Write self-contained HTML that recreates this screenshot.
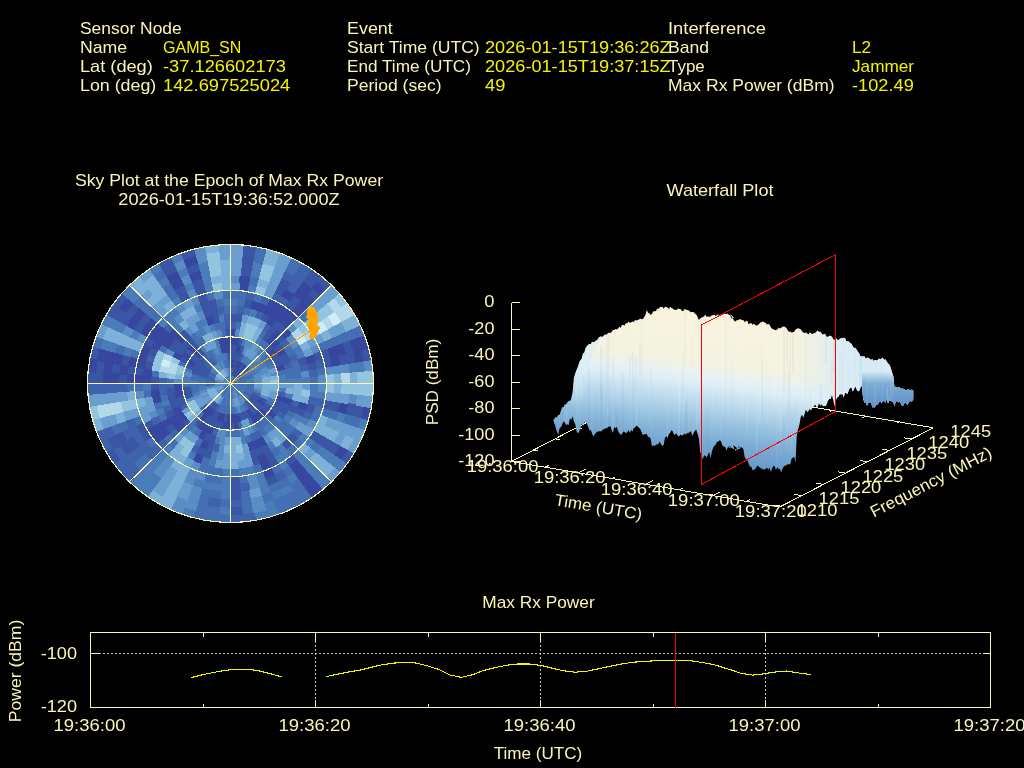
<!DOCTYPE html>
<html lang="en"><head><meta charset="utf-8"><title>Interference Event Report</title>
<style>
html,body{margin:0;padding:0;background:#000;}
body{width:1024px;height:768px;overflow:hidden;font-family:"Liberation Sans",sans-serif;}
svg{display:block;position:absolute;left:0;top:0;will-change:transform;opacity:0.999;}
text{font-family:"Liberation Sans",sans-serif;font-size:16.4px;}
.ax{stroke:#fbf7b5;stroke-width:1;fill:none;shape-rendering:crispEdges;}
</style></head><body>
<svg width="1024" height="768" viewBox="0 0 1024 768">
<rect x="0" y="0" width="1024" height="768" fill="#000"/>

<g id="header">
<text x="80" y="34" text-anchor="start" fill="#fbf7b5" textLength="101.7" lengthAdjust="spacingAndGlyphs">Sensor Node</text>
<text x="80" y="53" text-anchor="start" fill="#fbf7b5" textLength="47.2" lengthAdjust="spacingAndGlyphs">Name</text>
<text x="163" y="53" text-anchor="start" fill="#f5f500" textLength="78.3" lengthAdjust="spacingAndGlyphs">GAMB_SN</text>
<text x="80" y="72" text-anchor="start" fill="#fbf7b5" textLength="72.8" lengthAdjust="spacingAndGlyphs">Lat (deg)</text>
<text x="163" y="72" text-anchor="start" fill="#f5f500" textLength="122.9" lengthAdjust="spacingAndGlyphs">-37.126602173</text>
<text x="80" y="91" text-anchor="start" fill="#fbf7b5" textLength="76.3" lengthAdjust="spacingAndGlyphs">Lon (deg)</text>
<text x="163" y="91" text-anchor="start" fill="#f5f500" textLength="127.3" lengthAdjust="spacingAndGlyphs">142.697525024</text>
<text x="347" y="34" text-anchor="start" fill="#fbf7b5" textLength="45.8" lengthAdjust="spacingAndGlyphs">Event</text>
<text x="347" y="53" text-anchor="start" fill="#fbf7b5" textLength="132.7" lengthAdjust="spacingAndGlyphs">Start Time (UTC)</text>
<text x="485" y="53" text-anchor="start" fill="#f5f500" textLength="185.7" lengthAdjust="spacingAndGlyphs">2026-01-15T19:36:26Z</text>
<text x="347" y="72" text-anchor="start" fill="#fbf7b5" textLength="124.0" lengthAdjust="spacingAndGlyphs">End Time (UTC)</text>
<text x="485" y="72" text-anchor="start" fill="#f5f500" textLength="185.7" lengthAdjust="spacingAndGlyphs">2026-01-15T19:37:15Z</text>
<text x="347" y="91" text-anchor="start" fill="#fbf7b5" textLength="94.5" lengthAdjust="spacingAndGlyphs">Period (sec)</text>
<text x="485" y="91" text-anchor="start" fill="#f5f500" textLength="20.4" lengthAdjust="spacingAndGlyphs">49</text>
<text x="668" y="34" text-anchor="start" fill="#fbf7b5" textLength="97.9" lengthAdjust="spacingAndGlyphs">Interference</text>
<text x="668" y="53" text-anchor="start" fill="#fbf7b5" textLength="41.1" lengthAdjust="spacingAndGlyphs">Band</text>
<text x="852" y="53" text-anchor="start" fill="#f5f500" textLength="19.1" lengthAdjust="spacingAndGlyphs">L2</text>
<text x="668" y="72" text-anchor="start" fill="#fbf7b5" textLength="36.8" lengthAdjust="spacingAndGlyphs">Type</text>
<text x="852" y="72" text-anchor="start" fill="#f5f500" textLength="62.1" lengthAdjust="spacingAndGlyphs">Jammer</text>
<text x="668" y="91" text-anchor="start" fill="#fbf7b5" textLength="166.6" lengthAdjust="spacingAndGlyphs">Max Rx Power (dBm)</text>
<text x="852" y="91" text-anchor="start" fill="#f5f500" textLength="61.8" lengthAdjust="spacingAndGlyphs">-102.49</text>
</g>
<text x="229" y="186" text-anchor="middle" fill="#fbf7b5" textLength="308.2" lengthAdjust="spacingAndGlyphs">Sky Plot at the Epoch of Max Rx Power</text>
<text x="229" y="205" text-anchor="middle" fill="#fbf7b5" textLength="221.4" lengthAdjust="spacingAndGlyphs">2026-01-15T19:36:52.000Z</text>
<text x="720" y="196" text-anchor="middle" fill="#fbf7b5" textLength="107.0" lengthAdjust="spacingAndGlyphs">Waterfall Plot</text>
<text x="538.5" y="608" text-anchor="middle" fill="#fbf7b5" textLength="112.3" lengthAdjust="spacingAndGlyphs">Max Rx Power</text>
<g id="skyplot">
<defs><clipPath id="skyclip"><circle cx="230.5" cy="383.5" r="143.0"/></clipPath></defs>
<g transform="translate(0 10.727) scale(1 0.9720)">
<circle cx="230.5" cy="383.5" r="143.0" fill="#4a7dba"/>
<g clip-path="url(#skyclip)" shape-rendering="crispEdges">
<path fill="#4a7dba" d="M230.5 383.5L230.5 375.0L231.3 375.0L230.5 383.5ZM230.5 383.5L231.2 375.0L232.0 375.1L230.5 383.5ZM230.5 383.5L231.9 375.1L232.8 375.3L230.5 383.5ZM230.5 383.5L232.7 375.2L233.5 375.5L230.5 383.5ZM230.5 383.5L233.4 375.5L234.2 375.8L230.5 383.5ZM230.5 383.5L235.4 376.5L236.0 377.0L230.5 383.5ZM230.5 383.5L236.0 376.9L236.6 377.5L230.5 383.5ZM230.5 383.5L236.5 377.4L237.1 378.0L230.5 383.5ZM230.5 383.5L237.0 378.0L237.5 378.6L230.5 383.5ZM230.5 383.5L237.5 378.6L237.9 379.3L230.5 383.5ZM230.5 383.5L237.9 379.2L238.3 379.9L230.5 383.5ZM230.5 383.5L238.2 379.8L238.5 380.6L230.5 383.5ZM230.5 383.5L238.5 380.5L238.8 381.3L230.5 383.5ZM230.5 383.5L238.9 382.0L239.0 382.8L230.5 383.5ZM230.5 383.5L239.0 382.7L239.0 383.5L230.5 383.5ZM230.5 383.5L239.0 383.5L239.0 384.3L230.5 383.5ZM230.5 383.5L239.0 384.2L238.9 385.0L230.5 383.5ZM230.5 383.5L238.9 384.9L238.7 385.8L230.5 383.5ZM230.5 383.5L238.5 386.4L238.2 387.2L230.5 383.5ZM230.5 383.5L238.3 387.1L237.9 387.8L230.5 383.5ZM230.5 383.5L237.1 389.0L236.5 389.6L230.5 383.5ZM230.5 383.5L236.6 389.5L236.0 390.1L230.5 383.5ZM230.5 383.5L236.0 390.0L235.4 390.5L230.5 383.5ZM230.5 383.5L235.4 390.5L234.7 390.9L230.5 383.5ZM230.5 383.5L234.8 390.9L234.1 391.3L230.5 383.5ZM230.5 383.5L234.2 391.2L233.4 391.5L230.5 383.5ZM230.5 383.5L232.8 391.7L231.9 391.9L230.5 383.5ZM230.5 383.5L231.3 392.0L230.5 392.0L230.5 383.5ZM230.5 383.5L230.5 392.0L229.7 392.0L230.5 383.5ZM230.5 383.5L227.6 391.5L226.8 391.2L230.5 383.5ZM230.5 383.5L226.9 391.3L226.2 390.9L230.5 383.5ZM230.5 383.5L226.3 390.9L225.6 390.5L230.5 383.5ZM230.5 383.5L225.0 390.1L224.4 389.5L230.5 383.5ZM230.5 383.5L224.5 389.6L223.9 389.0L230.5 383.5ZM230.5 383.5L224.0 389.0L223.5 388.4L230.5 383.5ZM230.5 383.5L223.5 388.4L223.1 387.7L230.5 383.5ZM230.5 383.5L223.1 387.8L222.7 387.1L230.5 383.5ZM230.5 383.5L222.8 387.2L222.5 386.4L230.5 383.5ZM230.5 383.5L222.5 386.5L222.2 385.7L230.5 383.5ZM230.5 383.5L222.0 382.8L222.1 382.0L230.5 383.5ZM230.5 383.5L222.7 379.9L223.1 379.2L230.5 383.5ZM230.5 383.5L223.5 378.6L224.0 378.0L230.5 383.5ZM230.5 383.5L224.4 377.5L225.0 376.9L230.5 383.5ZM230.5 383.5L225.0 377.0L225.6 376.5L230.5 383.5ZM230.5 383.5L225.6 376.5L226.3 376.1L230.5 383.5ZM230.5 383.5L226.2 376.1L226.9 375.7L230.5 383.5ZM230.5 383.5L228.2 375.3L229.1 375.1L230.5 383.5ZM230.5 383.5L229.0 375.1L229.8 375.0L230.5 383.5ZM230.5 383.5L229.7 375.0L230.5 375.0L230.5 383.5ZM238.4 383.5L247.0 383.4L246.9 385.0L238.4 384.2ZM238.2 385.5L246.4 387.7L246.0 389.2L238.0 386.3ZM237.7 386.8L245.5 390.4L244.7 391.8L237.4 387.5ZM237.4 387.4L244.8 391.7L244.0 393.0L237.0 388.1ZM236.6 388.6L243.2 394.0L242.1 395.2L236.1 389.1ZM236.1 389.1L242.2 395.1L241.0 396.2L235.6 389.6ZM235.6 389.6L241.2 396.1L239.9 397.1L235.0 390.0ZM235.1 390.0L240.0 397.0L238.7 397.8L234.4 390.4ZM232.6 391.2L234.9 399.4L233.3 399.8L231.8 391.3ZM231.9 391.3L233.4 399.7L231.9 399.9L231.2 391.4ZM231.2 391.4L232.0 399.9L230.4 400.0L230.5 391.4ZM229.2 391.3L227.7 399.8L226.1 399.4L228.4 391.2ZM227.8 391.0L224.9 399.0L223.5 398.4L227.1 390.7ZM226.0 390.0L221.1 397.1L219.8 396.1L225.4 389.6ZM225.4 389.6L220.0 396.2L218.8 395.1L224.9 389.1ZM222.6 383.5L214.0 383.6L214.1 382.0L222.6 382.8ZM222.6 382.8L214.1 382.1L214.3 380.6L222.7 382.1ZM229.1 375.7L227.6 367.3L229.1 367.1L229.8 375.6ZM229.8 375.6L229.0 367.1L230.6 367.0L230.5 375.6ZM244.2 375.5L251.6 371.2L252.7 373.3L244.9 376.9ZM245.8 379.3L254.1 377.1L254.6 379.4L246.2 380.8ZM246.1 380.7L254.5 379.1L254.9 381.5L246.3 382.2ZM232.0 399.3L232.8 407.8L230.4 407.9L230.4 399.4ZM230.6 399.4L230.6 407.9L228.2 407.8L229.0 399.3ZM227.8 399.2L226.4 407.6L224.1 407.1L226.3 398.8ZM216.7 375.6L209.3 371.4L210.6 369.4L217.5 374.3ZM217.4 374.5L210.4 369.6L211.9 367.7L218.4 373.2ZM222.5 369.8L218.2 362.4L220.3 361.3L223.9 369.1ZM225.0 368.6L222.0 360.6L224.3 359.9L226.5 368.1ZM240.5 361.8L244.0 354.1L246.8 355.5L242.5 362.9ZM242.3 362.8L246.5 355.4L249.2 357.1L244.3 364.0ZM244.1 363.9L248.9 356.9L251.4 358.8L245.9 365.3ZM245.7 365.2L251.2 358.6L253.5 360.7L247.4 366.7ZM247.3 366.6L253.3 360.5L255.4 362.8L248.8 368.3ZM248.7 368.1L255.2 362.6L257.1 365.1L250.1 369.9ZM251.1 371.5L258.5 367.2L259.9 370.0L252.2 373.5ZM252.0 373.3L259.8 369.7L261.0 372.6L252.9 375.5ZM253.6 389.5L261.8 391.7L260.9 394.7L252.9 391.8ZM242.5 404.1L246.8 411.5L244.0 412.9L240.5 405.2ZM240.7 405.0L244.3 412.8L241.4 414.0L238.5 405.9ZM236.8 406.5L239.0 414.7L236.0 415.4L234.5 407.0ZM207.5 389.8L199.3 392.0L198.6 389.0L207.0 387.5ZM207.1 387.8L198.6 389.3L198.2 386.2L206.7 385.5ZM218.5 362.9L214.2 355.5L217.0 354.1L220.5 361.8ZM220.3 362.0L216.7 354.2L219.6 353.0L222.5 361.1ZM222.2 361.1L219.3 353.1L222.3 352.2L224.5 360.4ZM224.2 360.5L222.0 352.3L225.0 351.6L226.5 360.0ZM254.7 362.9L261.3 357.4L263.7 360.5L256.6 365.4ZM256.4 365.1L263.4 360.2L265.5 363.5L258.1 367.8ZM257.9 367.5L265.3 363.2L267.1 366.7L259.4 370.2ZM200.7 394.5L192.7 397.5L191.5 393.7L199.8 391.6ZM198.7 383.7L190.2 383.7L190.4 379.8L198.9 380.6ZM214.5 356.1L210.2 348.7L213.7 346.9L217.2 354.6ZM219.5 353.7L216.5 345.7L220.3 344.5L222.4 352.8ZM240.6 345.1L242.7 336.8L247.2 338.2L244.3 346.2ZM255.9 352.9L261.3 346.4L264.8 349.5L258.7 355.6ZM258.4 355.3L264.5 349.2L267.6 352.7L261.1 358.1ZM266.4 366.5L274.1 362.9L275.9 367.2L267.9 370.1ZM267.9 396.9L275.9 399.8L274.1 404.1L266.4 400.5ZM190.8 383.7L182.2 383.8L182.4 379.0L190.9 379.8ZM190.9 380.2L182.4 379.5L183.0 374.9L191.4 376.4ZM192.1 373.4L183.8 371.3L185.2 366.8L193.2 369.7ZM204.8 353.2L199.3 346.7L203.0 343.8L207.9 350.8ZM216.7 346.2L213.8 338.2L218.3 336.8L220.4 345.1ZM254.1 342.1L258.4 334.7L263.0 337.6L258.0 344.6ZM277.4 375.0L285.8 373.4L286.5 378.9L278.0 379.6ZM278.0 379.1L286.5 378.3L286.7 383.8L278.2 383.7ZM278.0 387.4L286.5 388.1L285.8 393.6L277.4 392.0ZM254.5 424.7L258.9 432.0L254.0 434.6L250.4 426.8ZM243.1 429.5L245.3 437.7L240.0 438.9L238.5 430.5ZM230.7 431.2L230.8 439.7L225.3 439.5L226.1 431.0ZM285.9 378.4L294.4 377.6L294.7 383.8L286.1 383.8ZM285.3 392.9L293.7 394.3L292.4 400.4L284.1 398.2ZM276.2 415.2L283.2 420.0L279.4 425.0L272.9 419.5ZM270.0 422.6L276.1 428.6L271.5 432.9L266.0 426.3ZM266.5 425.9L272.0 432.4L267.0 436.2L262.2 429.2ZM245.2 437.1L247.4 445.4L241.3 446.7L239.9 438.3ZM221.1 438.3L219.7 446.7L213.6 445.4L215.8 437.1ZM198.8 429.2L194.0 436.2L189.0 432.4L194.5 425.9ZM198.4 338.1L193.4 331.1L198.7 327.8L202.9 335.2ZM202.4 335.5L198.1 328.1L203.7 325.2L207.3 333.0ZM211.2 331.3L208.2 323.3L214.2 321.4L216.4 329.7ZM293.8 377.6L302.3 376.8L302.6 383.9L294.1 383.8ZM285.7 415.0L293.1 419.2L289.3 425.2L282.4 420.2ZM170.9 405.5L162.9 408.5L160.8 401.8L169.0 399.6ZM198.4 328.6L194.1 321.2L200.4 318.0L203.9 325.8ZM203.3 326.0L199.7 318.3L206.2 315.6L209.1 323.7ZM219.1 321.0L217.6 312.6L224.6 311.6L225.3 320.2ZM248.6 314.3L250.8 306.1L258.3 308.4L255.3 316.4ZM292.2 347.4L299.6 343.1L303.2 350.1L295.5 353.6ZM295.1 352.9L302.9 349.3L305.9 356.5L297.8 359.4ZM301.7 376.9L310.2 376.1L310.5 383.9L302.0 383.9ZM295.5 413.4L303.2 416.9L299.6 423.9L292.2 419.6ZM271.8 441.9L276.8 448.8L270.2 453.0L265.9 445.6ZM218.5 454.0L217.0 462.4L209.4 460.7L211.6 452.5ZM165.9 414.1L158.1 417.7L155.1 410.5L163.2 407.6ZM179.7 333.2L173.6 327.2L179.4 321.9L184.8 328.5ZM230.1 304.1L230.0 295.5L238.6 295.9L237.8 304.4ZM309.9 383.1L318.5 383.0L318.1 391.6L309.6 390.8ZM309.7 390.0L318.2 390.7L317.1 399.2L308.7 397.7ZM302.7 416.7L310.4 420.3L306.5 427.9L299.1 423.6ZM281.9 444.1L287.4 450.6L280.6 455.8L275.7 448.8ZM217.1 461.8L215.7 470.2L207.3 468.4L209.5 460.1ZM197.3 455.7L193.7 463.4L186.1 459.5L190.4 452.1ZM151.4 390.8L142.9 391.6L142.5 383.0L151.1 383.1ZM174.0 327.6L168.0 321.6L174.3 315.8L179.8 322.4ZM196.5 311.7L192.9 304.0L200.8 300.7L203.7 308.7ZM223.2 304.4L222.4 295.9L231.0 295.5L230.9 304.1ZM317.6 390.7L326.1 391.4L324.9 400.7L316.5 399.1ZM302.3 433.2L309.4 438.1L303.7 445.5L297.1 440.0ZM287.0 450.1L292.5 456.7L285.1 462.4L280.2 455.3ZM281.0 454.8L285.9 461.8L278.0 466.8L273.8 459.4ZM253.6 467.8L255.8 476.0L246.7 478.1L245.2 469.6ZM246.1 469.5L247.7 477.9L238.4 479.1L237.7 470.6ZM231.0 470.9L231.0 479.4L221.6 479.0L222.4 470.5ZM174.7 450.7L169.2 457.3L162.3 451.0L168.4 445.0ZM163.3 327.7L156.7 322.2L163.0 315.3L169.0 321.4ZM168.4 322.0L162.3 316.0L169.2 309.7L174.7 316.3ZM174.0 316.9L168.5 310.3L175.9 304.6L180.8 311.7ZM246.6 289.5L248.0 281.1L257.9 283.3L255.7 291.5ZM308.9 437.8L315.9 442.6L309.7 450.7L303.2 445.2ZM298.3 450.6L304.3 456.6L296.9 463.4L291.4 456.8ZM285.6 461.3L290.5 468.3L282.0 473.7L277.7 466.3ZM263.6 472.9L266.5 480.9L256.9 484.0L254.7 475.7ZM231.0 478.8L231.0 487.4L220.9 486.9L221.7 478.4ZM169.6 456.8L164.1 463.4L156.7 456.6L162.7 450.6ZM175.4 305.7L170.5 298.7L179.0 293.3L183.3 300.7ZM205.3 291.5L203.1 283.3L213.0 281.1L214.4 289.5ZM303.1 310.1L309.2 304.0L316.5 312.1L310.0 317.5ZM303.9 456.1L310.0 462.2L301.9 469.5L296.5 463.0ZM266.3 480.4L269.3 488.4L258.9 491.7L256.7 483.4ZM231.0 486.8L231.1 495.3L220.2 494.8L221.0 486.3ZM222.0 486.4L221.3 494.9L210.5 493.5L212.0 485.1ZM213.1 485.3L211.7 493.7L201.0 491.4L203.2 483.1ZM204.3 483.4L202.1 491.7L191.7 488.4L194.7 480.4ZM164.5 463.0L159.1 469.5L151.0 462.2L157.1 456.1ZM130.6 357.3L122.3 355.1L125.6 344.7L133.6 347.7ZM136.7 340.3L128.9 336.8L134.0 327.1L141.3 331.4ZM186.4 290.1L182.7 282.4L192.8 278.2L195.7 286.3ZM203.2 283.9L201.0 275.6L211.7 273.3L213.1 281.7ZM249.2 273.9L250.7 265.4L262.1 268.0L259.8 276.2ZM338.1 411.7L346.3 413.9L342.8 425.1L334.8 422.1ZM321.9 446.8L329.0 451.7L321.8 461.0L315.3 455.4ZM309.6 461.7L315.6 467.7L307.0 475.6L301.5 469.1ZM294.8 474.3L299.7 481.2L289.8 487.5L285.6 480.1ZM269.1 487.8L272.1 495.8L260.9 499.3L258.7 491.1ZM231.1 494.7L231.1 503.3L219.4 502.8L220.2 494.2ZM159.5 469.1L154.0 475.6L145.4 467.7L151.4 461.7ZM201.2 276.2L198.9 268.0L210.3 265.4L211.8 273.9ZM250.6 266.0L252.0 257.6L264.2 260.3L261.9 268.6ZM347.7 362.2L356.2 360.7L357.8 373.0L349.3 373.7ZM328.5 451.3L335.5 456.2L327.9 466.1L321.4 460.6ZM315.2 467.3L321.3 473.3L312.1 481.8L306.6 475.2ZM290.6 486.4L294.9 493.8L283.9 499.5L280.3 491.8ZM281.4 491.2L285.1 499.0L273.6 503.7L270.7 495.7ZM162.7 481.5L157.8 488.5L147.9 480.9L153.4 474.4ZM154.4 475.2L148.9 481.8L139.7 473.3L145.8 467.3ZM115.2 353.3L107.0 351.1L110.7 339.2L118.7 342.2ZM122.2 333.7L114.5 330.1L120.2 319.1L127.6 323.4ZM161.6 286.2L156.7 279.3L167.2 272.6L171.5 280.0ZM179.6 275.8L175.9 268.0L187.4 263.3L190.3 271.3ZM199.1 268.6L196.8 260.3L209.0 257.6L210.4 266.0ZM355.6 360.8L364.0 359.2L365.7 372.4L357.2 373.1ZM335.0 455.9L342.0 460.7L334.0 471.2L327.4 465.7ZM320.9 472.9L326.9 478.9L317.2 487.9L311.7 481.3ZM274.6 502.7L277.6 510.7L264.9 514.7L262.8 506.5ZM231.2 510.6L231.2 519.2L218.0 518.6L218.8 510.1ZM158.1 488.0L153.3 495.0L142.8 487.0L148.3 480.4ZM149.3 481.3L143.8 487.9L134.1 478.9L140.1 472.9ZM107.5 351.2L99.3 349.1L103.3 336.4L111.3 339.4ZM115.0 330.4L107.3 326.8L113.4 315.1L120.8 319.4ZM132.7 302.3L126.1 296.8L135.1 287.1L141.1 293.1ZM361.1 417.8L369.4 419.9L365.2 433.3L357.2 430.4ZM341.5 460.4L348.6 465.2L340.0 476.4L333.5 470.9ZM326.5 478.5L332.6 484.5L322.2 494.0L316.8 487.4ZM277.4 510.2L280.3 518.2L266.9 522.4L264.8 514.1ZM266.1 513.8L268.4 522.0L254.7 525.0L253.3 516.6ZM196.2 514.1L194.1 522.4L180.7 518.2L183.6 510.2ZM153.6 494.5L148.8 501.6L137.6 493.0L143.1 486.5ZM144.2 487.4L138.8 494.0L128.4 484.5L134.5 478.5ZM107.8 327.1L100.0 323.5L106.5 311.0L113.9 315.4ZM126.6 297.2L120.0 291.8L129.5 281.4L135.5 287.5ZM152.5 273.3L147.5 266.3L159.4 258.8L163.6 266.2ZM172.8 261.4L169.1 253.7L182.1 248.3L185.0 256.3Z"/>
<path fill="#4670b4" d="M230.5 383.5L234.1 375.7L234.8 376.1L230.5 383.5ZM230.5 383.5L234.7 376.1L235.4 376.5L230.5 383.5ZM230.5 383.5L238.7 381.2L238.9 382.1L230.5 383.5ZM230.5 383.5L238.8 385.7L238.5 386.5L230.5 383.5ZM230.5 383.5L237.9 387.7L237.5 388.4L230.5 383.5ZM230.5 383.5L237.5 388.4L237.0 389.0L230.5 383.5ZM230.5 383.5L233.5 391.5L232.7 391.8L230.5 383.5ZM230.5 383.5L232.0 391.9L231.2 392.0L230.5 383.5ZM230.5 383.5L229.8 392.0L229.0 391.9L230.5 383.5ZM230.5 383.5L229.1 391.9L228.2 391.7L230.5 383.5ZM230.5 383.5L228.3 391.8L227.5 391.5L230.5 383.5ZM230.5 383.5L225.6 390.5L225.0 390.0L230.5 383.5ZM230.5 383.5L227.5 375.5L228.3 375.2L230.5 383.5ZM237.0 378.9L244.0 374.0L244.8 375.3L237.4 379.6ZM237.4 379.5L244.7 375.2L245.5 376.6L237.7 380.2ZM237.7 380.1L245.4 376.5L246.0 377.9L238.0 380.8ZM238.0 380.7L246.0 377.8L246.4 379.3L238.2 381.5ZM238.2 381.4L246.4 379.1L246.8 380.7L238.3 382.2ZM238.3 382.1L246.7 380.6L246.9 382.1L238.4 382.8ZM238.4 382.8L246.9 382.0L247.0 383.6L238.4 383.5ZM238.4 384.2L246.9 384.9L246.7 386.4L238.3 384.9ZM238.3 384.8L246.8 386.3L246.4 387.9L238.2 385.6ZM238.0 386.2L246.0 389.1L245.4 390.5L237.7 386.9ZM237.0 388.0L244.1 392.9L243.1 394.2L236.6 388.6ZM230.5 391.4L230.6 400.0L229.0 399.9L229.8 391.4ZM229.8 391.4L229.1 399.9L227.6 399.7L229.1 391.3ZM228.5 391.2L226.3 399.4L224.8 399.0L227.7 391.0ZM227.2 390.7L223.6 398.5L222.2 397.7L226.5 390.4ZM226.6 390.4L222.3 397.8L221.0 397.0L225.9 390.0ZM242.6 373.2L249.1 367.7L250.6 369.6L243.6 374.5ZM243.5 374.3L250.4 369.4L251.7 371.4L244.3 375.6ZM244.9 376.7L252.6 373.1L253.5 375.3L245.5 378.1ZM245.4 378.0L253.4 375.0L254.1 377.3L245.9 379.5ZM246.3 382.0L254.8 381.2L254.9 383.6L246.4 383.6ZM246.4 383.4L254.9 383.4L254.8 385.8L246.3 385.0ZM246.3 384.8L254.9 385.5L254.5 387.9L246.1 386.3ZM246.2 386.2L254.6 387.6L254.1 389.9L245.8 387.7ZM245.9 387.5L254.1 389.7L253.4 392.0L245.4 389.0ZM245.5 388.9L253.5 391.7L252.6 393.9L244.9 390.3ZM244.9 390.1L252.7 393.7L251.6 395.8L244.2 391.5ZM243.6 392.5L250.6 397.4L249.1 399.3L242.6 393.8ZM242.7 393.6L249.3 399.1L247.7 400.9L241.7 394.8ZM241.8 394.7L247.9 400.7L246.1 402.3L240.6 395.7ZM229.2 399.3L228.5 407.9L226.1 407.5L227.7 399.1ZM226.5 398.9L224.3 407.1L222.0 406.4L225.0 398.4ZM225.1 398.5L222.3 406.5L220.1 405.6L223.7 397.9ZM214.9 386.3L206.5 387.9L206.1 385.5L214.7 384.8ZM215.5 378.1L207.5 375.3L208.4 373.1L216.1 376.7ZM226.3 368.2L224.1 359.9L226.4 359.4L227.8 367.8ZM227.7 367.9L226.1 359.5L228.5 359.1L229.2 367.7ZM244.3 403.0L249.2 409.9L246.5 411.6L242.3 404.2ZM234.8 406.9L236.3 415.4L233.2 415.8L232.5 407.3ZM232.7 407.2L233.5 415.7L230.3 415.9L230.4 407.3ZM230.6 407.3L230.7 415.9L227.5 415.7L228.3 407.2ZM228.5 407.3L227.8 415.8L224.7 415.4L226.2 406.9ZM226.5 407.0L225.0 415.4L222.0 414.7L224.2 406.5ZM224.5 406.6L222.3 414.8L219.3 413.9L222.2 405.9ZM222.5 405.9L219.6 414.0L216.7 412.8L220.3 405.0ZM206.8 385.7L198.3 386.5L198.1 383.3L206.7 383.4ZM206.7 383.6L198.1 383.7L198.3 380.5L206.8 381.3ZM206.7 381.5L198.2 380.8L198.6 377.7L207.1 379.2ZM216.7 364.0L211.8 357.1L214.5 355.4L218.7 362.8ZM226.2 360.1L224.7 351.6L227.8 351.2L228.5 359.7ZM199.8 391.9L191.6 394.1L190.8 390.3L199.2 388.9ZM199.2 389.2L190.8 390.7L190.3 386.8L198.8 386.1ZM198.9 386.4L190.4 387.2L190.2 383.3L198.7 383.3ZM198.8 380.9L190.3 380.2L190.8 376.3L199.2 377.8ZM199.2 378.1L190.8 376.7L191.6 372.9L199.8 375.1ZM209.9 359.3L204.4 352.7L207.5 350.3L212.4 357.4ZM212.1 357.6L207.2 350.6L210.5 348.5L214.8 355.9ZM260.8 357.8L267.3 352.3L270.2 356.0L263.2 360.9ZM262.9 360.5L269.9 355.6L272.4 359.6L265.0 363.8ZM264.8 363.5L272.2 359.1L274.4 363.3L266.6 366.9ZM266.6 400.1L274.4 403.7L272.2 407.9L264.8 403.5ZM205.1 414.1L199.7 420.6L196.2 417.5L202.3 411.4ZM190.9 387.2L182.4 388.0L182.2 383.2L190.8 383.3ZM257.6 344.3L262.5 337.3L266.9 340.6L261.3 347.1ZM260.9 346.8L266.4 340.3L270.5 344.0L264.4 350.0ZM276.5 370.9L284.7 368.7L285.9 374.0L277.5 375.5ZM264.4 417.0L270.5 423.0L266.4 426.7L260.9 420.2ZM261.3 419.9L266.9 426.4L262.5 429.7L257.6 422.7ZM258.0 422.4L263.0 429.4L258.4 432.3L254.1 424.9ZM239.0 430.4L240.6 438.8L235.1 439.5L234.4 431.0ZM234.9 431.0L235.7 439.5L230.2 439.7L230.3 431.2ZM200.1 420.2L194.6 426.7L190.5 423.0L196.6 417.0ZM185.6 367.4L177.6 364.6L179.7 359.5L187.4 363.1ZM199.7 347.1L194.1 340.6L198.5 337.3L203.4 344.3ZM203.0 344.6L198.0 337.6L202.6 334.7L206.9 342.1ZM222.0 336.6L220.4 328.2L225.9 327.5L226.6 336.0ZM235.1 328.1L235.8 319.6L242.0 320.4L240.4 328.8ZM258.1 335.2L262.3 327.8L267.6 331.1L262.6 338.1ZM284.1 368.8L292.4 366.6L293.7 372.7L285.3 374.1ZM285.2 373.6L293.6 372.0L294.4 378.2L285.9 378.9ZM273.3 419.0L279.9 424.5L275.6 429.1L269.6 423.0ZM262.6 428.9L267.6 435.9L262.3 439.2L258.1 431.8ZM249.8 435.7L252.8 443.7L246.8 445.6L244.6 437.3ZM202.9 431.8L198.7 439.2L193.4 435.9L198.4 428.9ZM195.0 426.3L189.5 432.9L184.9 428.6L191.0 422.6ZM174.9 383.8L166.3 383.8L166.6 377.6L175.1 378.4ZM194.5 341.1L189.0 334.6L194.0 330.8L198.8 337.8ZM215.8 329.9L213.6 321.6L219.7 320.3L221.1 328.7ZM220.6 328.8L219.0 320.4L225.2 319.6L225.9 328.1ZM282.4 346.8L289.3 341.8L293.1 347.8L285.7 352.0ZM285.4 351.4L292.8 347.1L296.0 353.4L288.2 356.9ZM290.1 361.5L298.1 358.5L300.2 365.2L292.0 367.4ZM291.8 366.7L300.0 364.5L301.6 371.4L293.1 372.8ZM293.0 372.1L301.4 370.6L302.4 377.6L293.8 378.3ZM288.2 410.1L296.0 413.6L292.8 419.9L285.4 415.6ZM282.8 419.7L289.8 424.5L285.5 430.1L279.0 424.6ZM279.4 424.1L286.0 429.6L281.2 434.7L275.2 428.7ZM203.9 441.2L200.4 449.0L194.1 445.8L198.4 438.4ZM169.2 400.3L161.0 402.5L159.4 395.6L167.9 394.2ZM230.1 312.0L230.1 303.5L237.9 303.8L237.1 312.3ZM242.5 313.0L244.0 304.6L251.6 306.3L249.4 314.5ZM289.3 424.2L296.3 429.1L291.5 435.3L285.0 429.7ZM285.5 429.2L292.1 434.6L286.8 440.4L280.8 434.3ZM168.8 419.6L161.4 423.9L157.8 416.9L165.5 413.4ZM163.4 408.3L155.4 411.3L153.1 403.8L161.3 401.6ZM159.2 377.6L150.7 376.9L151.7 369.2L160.2 370.7ZM165.5 353.6L157.8 350.1L161.4 343.1L168.8 347.4ZM223.9 312.3L223.1 303.8L230.9 303.5L230.9 312.0ZM237.0 304.3L237.7 295.8L246.2 296.9L244.7 305.3ZM309.6 376.2L318.1 375.4L318.5 384.0L309.9 383.9ZM276.4 448.3L281.3 455.3L274.1 459.9L269.9 452.5ZM210.3 460.3L208.2 468.6L200.0 466.0L202.9 458.0ZM179.8 444.6L174.3 451.2L168.0 445.4L174.0 439.4ZM174.6 440.0L168.6 446.0L162.8 439.7L169.4 434.2ZM152.3 397.7L143.9 399.2L142.8 390.7L151.3 390.0ZM216.3 305.3L214.8 296.9L223.3 295.8L224.0 304.3ZM230.0 296.1L230.0 287.6L239.4 288.0L238.6 296.5ZM237.7 296.4L238.4 287.9L247.7 289.1L246.1 297.5ZM252.7 299.0L254.8 290.7L263.8 293.5L260.8 301.5ZM316.5 367.9L324.9 366.3L326.1 375.6L317.6 376.3ZM315.0 405.7L323.3 407.8L320.5 416.8L312.5 413.8ZM312.8 413.0L320.8 415.8L317.2 424.5L309.5 420.8ZM297.7 439.3L304.3 444.8L298.0 451.7L292.0 445.6ZM292.6 445.0L298.7 451.0L291.8 457.3L286.3 450.7ZM260.8 465.5L263.8 473.5L254.8 476.3L252.7 468.0ZM238.6 470.5L239.4 479.0L230.0 479.4L230.0 470.9ZM223.3 470.6L222.6 479.1L213.3 477.9L214.9 469.5ZM215.8 469.6L214.3 478.1L205.2 476.0L207.4 467.8ZM208.3 468.0L206.2 476.3L197.2 473.5L200.2 465.5ZM143.5 391.6L135.0 392.4L134.6 383.0L143.1 383.0ZM207.4 299.2L205.2 291.0L214.3 288.9L215.8 297.4ZM222.4 296.5L221.6 288.0L231.0 287.6L231.0 296.1ZM297.6 315.7L303.6 309.7L310.4 317.1L303.8 322.6ZM316.7 342.8L324.4 339.1L328.3 348.5L320.3 351.4ZM322.7 407.7L331.0 409.9L327.9 419.5L319.9 416.6ZM278.6 465.8L282.9 473.2L273.9 477.9L270.3 470.1ZM247.5 477.3L249.1 485.7L239.0 487.0L238.3 478.5ZM222.7 478.5L222.0 487.0L211.9 485.7L213.5 477.3ZM214.4 477.5L213.0 485.9L203.1 483.7L205.3 475.5ZM157.8 445.2L151.3 450.7L145.1 442.6L152.1 437.8ZM144.3 424.2L136.6 427.9L132.7 418.5L140.7 415.6ZM135.6 392.3L127.1 393.1L126.6 383.0L135.2 383.0ZM138.3 359.3L130.0 357.1L133.1 347.5L141.1 350.4ZM157.2 322.6L150.6 317.1L157.4 309.7L163.4 315.7ZM247.9 281.7L249.3 273.3L260.0 275.6L257.8 283.9ZM323.9 339.4L331.6 335.7L335.8 345.8L327.7 348.7ZM330.4 409.7L338.7 411.9L335.4 422.3L327.4 419.3ZM315.4 442.3L322.4 447.2L315.8 455.8L309.3 450.3ZM290.2 467.8L295.1 474.8L285.9 480.6L281.7 473.2ZM151.0 317.5L144.5 312.1L151.8 304.0L157.9 310.1ZM170.8 299.2L165.9 292.2L175.1 286.4L179.3 293.8ZM331.1 336.0L338.8 332.3L343.3 343.1L335.2 346.0ZM286.6 479.5L290.9 486.9L280.5 492.3L277.0 484.5ZM278.0 484.1L281.7 491.8L270.9 496.3L268.0 488.2ZM250.4 492.9L251.9 501.3L240.3 502.9L239.6 494.3ZM221.4 494.3L220.7 502.9L209.1 501.3L210.6 492.9ZM211.8 493.1L210.3 501.6L198.9 499.0L201.2 490.8ZM152.3 462.6L146.3 468.6L138.4 460.0L144.9 454.5ZM129.9 431.0L122.2 434.7L117.7 423.9L125.8 421.0ZM122.9 355.3L114.7 353.1L118.2 341.9L126.2 344.9ZM144.9 312.5L138.4 307.0L146.3 298.4L152.3 304.4ZM166.2 292.7L161.3 285.8L171.2 279.5L175.4 286.9ZM338.2 332.6L346.0 328.9L350.7 340.4L342.7 343.3ZM345.8 413.7L354.0 415.9L350.3 427.8L342.3 424.8ZM299.4 480.8L304.3 487.7L293.8 494.4L289.5 487.0ZM271.8 495.3L274.8 503.3L262.9 507.0L260.7 498.8ZM251.8 500.7L253.3 509.2L241.0 510.8L240.3 502.3ZM231.1 502.7L231.2 511.2L218.7 510.7L219.5 502.2ZM210.4 501.0L209.0 509.4L196.8 506.7L199.1 498.4ZM146.7 468.2L140.7 474.3L132.2 465.1L138.8 459.6ZM122.8 434.4L115.0 438.1L110.3 426.6L118.3 423.7ZM138.8 307.4L132.2 301.9L140.7 292.7L146.7 298.8ZM251.9 258.2L253.4 249.8L266.3 252.7L264.0 260.9ZM283.6 268.0L287.2 260.3L298.9 266.4L294.6 273.8ZM345.4 329.2L353.1 325.5L358.2 337.8L350.2 340.7ZM353.5 415.8L361.7 417.9L357.7 430.6L349.7 427.6ZM304.0 487.2L308.9 494.2L297.7 501.3L293.5 493.9ZM294.6 493.2L298.9 500.6L287.2 506.7L283.6 499.0ZM284.8 498.4L288.5 506.1L276.2 511.2L273.3 503.2ZM253.2 508.6L254.8 517.0L241.6 518.7L240.9 510.2ZM220.1 510.2L219.4 518.7L206.2 517.0L207.8 508.6ZM209.1 508.8L207.6 517.2L194.7 514.3L197.0 506.1ZM157.0 279.8L152.1 272.8L163.3 265.7L167.5 273.1ZM253.3 250.4L254.7 242.0L268.4 245.0L266.1 253.2ZM286.9 260.8L290.5 253.0L303.0 259.5L298.6 266.9ZM352.6 325.8L360.3 322.1L365.7 335.1L357.7 338.0ZM308.5 493.7L313.5 500.7L301.6 508.2L297.4 500.8ZM298.6 500.1L303.0 507.5L290.5 514.0L286.9 506.2ZM288.2 505.6L291.9 513.3L278.9 518.7L276.0 510.7ZM231.2 518.6L231.3 527.1L217.2 526.5L218.0 518.0ZM219.4 518.1L218.7 526.6L204.8 524.8L206.4 516.4ZM207.7 516.6L206.3 525.0L192.6 522.0L194.9 513.8ZM99.9 349.2L91.6 347.1L95.8 333.7L103.8 336.6Z"/>
<path fill="#5a8ec4" d="M230.5 383.5L222.3 385.8L222.1 384.9L230.5 383.5ZM230.5 383.5L222.1 385.0L222.0 384.2L230.5 383.5ZM230.5 383.5L222.0 384.3L222.0 383.5L230.5 383.5ZM230.5 383.5L222.0 383.5L222.0 382.7L230.5 383.5ZM230.5 383.5L222.1 382.1L222.3 381.2L230.5 383.5ZM230.5 383.5L222.2 381.3L222.5 380.5L230.5 383.5ZM230.5 383.5L222.5 380.6L222.8 379.8L230.5 383.5ZM230.5 383.5L223.1 379.3L223.5 378.6L230.5 383.5ZM230.5 383.5L223.9 378.0L224.5 377.4L230.5 383.5ZM230.5 383.5L226.8 375.8L227.6 375.5L230.5 383.5ZM234.5 390.4L238.8 397.7L237.4 398.5L233.8 390.7ZM233.9 390.7L237.5 398.4L236.1 399.0L233.2 391.0ZM233.3 391.0L236.2 399.0L234.7 399.4L232.5 391.2ZM224.9 389.1L218.9 395.2L217.8 394.0L224.4 388.6ZM224.4 388.6L217.9 394.2L216.9 392.9L224.0 388.0ZM224.0 388.1L217.0 393.0L216.2 391.7L223.6 387.4ZM222.8 385.6L214.6 387.9L214.2 386.3L222.7 384.8ZM222.7 384.9L214.3 386.4L214.1 384.9L222.6 384.2ZM222.6 384.2L214.1 385.0L214.0 383.4L222.6 383.5ZM222.7 382.2L214.2 380.7L214.6 379.1L222.8 381.4ZM228.4 375.8L226.1 367.6L227.7 367.2L229.2 375.7ZM240.8 395.6L246.3 402.1L244.4 403.6L239.5 396.6ZM239.7 396.5L244.6 403.4L242.6 404.7L238.4 397.3ZM238.5 397.2L242.8 404.6L240.7 405.7L237.1 397.9ZM233.3 399.1L234.9 407.5L232.5 407.9L231.8 399.3ZM223.9 397.9L220.3 405.7L218.2 404.6L222.5 397.2ZM215.2 387.7L206.9 389.9L206.4 387.6L214.8 386.2ZM218.3 373.4L211.7 367.9L213.3 366.1L219.3 372.2ZM219.2 372.3L213.1 366.3L214.9 364.7L220.4 371.3ZM220.2 371.4L214.7 364.9L216.6 363.4L221.5 370.4ZM221.3 370.5L216.4 363.6L218.4 362.3L222.6 369.7ZM223.7 369.1L220.1 361.4L222.3 360.5L225.1 368.5ZM250.0 369.7L256.9 364.8L258.6 367.5L251.2 371.7ZM252.9 375.2L260.9 372.3L261.8 375.3L253.6 377.5ZM253.5 377.2L261.7 375.0L262.4 378.0L254.0 379.5ZM253.9 379.2L262.4 377.7L262.8 380.8L254.3 381.5ZM254.2 381.3L262.7 380.5L262.9 383.7L254.3 383.6ZM254.0 387.5L262.4 389.0L261.7 392.0L253.5 389.8ZM238.8 405.9L241.7 413.9L238.7 414.8L236.5 406.6ZM213.7 400.4L207.7 406.5L205.6 404.2L212.2 398.7ZM209.9 395.5L202.5 399.8L201.1 397.0L208.8 393.5ZM208.1 391.8L200.1 394.7L199.2 391.7L207.4 389.5ZM241.2 353.6L244.1 345.5L247.7 347.0L244.1 354.8ZM250.8 359.1L256.3 352.5L259.2 355.1L253.1 361.1ZM252.9 360.9L258.9 354.8L261.5 357.7L254.9 363.2ZM259.2 369.9L267.0 366.3L268.5 369.9L260.4 372.8ZM260.3 372.5L268.3 369.5L269.5 373.3L261.2 375.4ZM260.4 394.2L268.5 397.1L267.0 400.7L259.2 397.1ZM201.8 397.1L194.0 400.7L192.5 397.1L200.6 394.2ZM216.9 354.8L213.3 347.0L216.9 345.5L219.8 353.6ZM243.9 346.1L246.8 338.1L251.1 339.9L247.5 347.6ZM247.1 347.4L250.7 339.6L254.9 341.8L250.5 349.2ZM253.1 350.8L258.0 343.8L261.7 346.7L256.2 353.2ZM268.8 373.0L277.1 370.8L278.1 375.4L269.7 376.8ZM194.6 400.5L186.9 404.1L185.1 399.8L193.1 396.9ZM191.3 376.8L182.9 375.4L183.9 370.8L192.2 373.0ZM234.4 336.0L235.1 327.5L240.6 328.2L239.0 336.6ZM250.9 426.6L254.5 434.3L249.4 436.4L246.6 428.4ZM226.6 431.0L225.9 439.5L220.4 438.8L222.0 430.4ZM222.5 430.5L221.0 438.9L215.7 437.7L217.9 429.5ZM182.8 383.7L174.3 383.8L174.5 378.3L183.0 379.1ZM217.9 337.5L215.7 329.3L221.0 328.1L222.5 336.5ZM225.9 438.9L225.2 447.4L219.0 446.6L220.6 438.2ZM206.7 333.2L203.1 325.5L208.9 323.1L211.8 331.1ZM267.2 435.4L272.2 442.3L266.2 446.1L262.0 438.7ZM225.3 446.8L224.6 455.4L217.6 454.4L219.1 446.0ZM189.9 432.4L184.4 439.0L179.3 434.2L185.3 428.2ZM172.8 356.9L165.0 353.4L168.2 347.1L175.6 351.4ZM189.4 335.0L183.9 328.5L189.5 324.2L194.3 331.2ZM285.0 337.3L291.5 331.7L296.3 337.9L289.3 342.8ZM288.9 342.2L295.8 337.2L300.0 343.8L292.6 348.1ZM300.8 370.7L309.3 369.2L310.3 376.9L301.8 377.6ZM292.6 418.9L300.0 423.2L295.8 429.8L288.9 424.8ZM224.6 454.8L223.9 463.3L216.2 462.3L217.7 453.8ZM199.9 318.9L196.3 311.1L203.5 308.1L206.4 316.2ZM286.4 327.0L292.4 321.0L298.2 327.3L291.6 332.8ZM158.7 417.5L151.0 421.1L147.7 413.2L155.7 410.3ZM179.1 322.9L173.6 316.4L180.4 311.2L185.3 318.2ZM309.5 346.2L317.2 342.5L320.8 351.2L312.8 354.0ZM317.5 375.4L326.0 374.6L326.4 384.0L317.9 384.0ZM317.9 383.0L326.4 383.0L326.0 392.4L317.5 391.6ZM309.9 420.0L317.7 423.6L313.3 431.9L306.0 427.6ZM201.0 465.8L198.2 473.8L189.5 470.2L193.2 462.5ZM144.5 399.1L136.1 400.7L134.9 391.4L143.4 390.7ZM180.0 312.2L175.1 305.2L183.0 300.2L187.2 307.6ZM193.2 304.5L189.5 296.8L198.2 293.2L201.0 301.2ZM214.9 297.5L213.3 289.1L222.6 287.9L223.3 296.4ZM324.3 366.5L332.7 364.9L334.0 375.0L325.5 375.7ZM255.7 475.5L257.9 483.7L248.0 485.9L246.6 477.5ZM206.3 475.7L204.1 484.0L194.5 480.9L197.4 472.9ZM198.4 473.3L195.5 481.3L186.1 477.4L189.8 469.7ZM176.2 461.9L171.4 468.9L163.3 462.7L168.8 456.2ZM143.9 343.7L136.1 340.1L140.8 331.1L148.2 335.4ZM189.8 297.3L186.1 289.6L195.5 285.7L198.4 293.7ZM230.0 280.2L229.9 271.7L240.8 272.2L240.0 280.7ZM332.1 365.0L340.5 363.5L341.9 374.3L333.4 375.0ZM257.8 483.1L260.0 491.4L249.3 493.7L247.9 485.3ZM195.7 480.7L192.8 488.8L182.7 484.6L186.4 476.9ZM171.7 468.4L166.8 475.4L158.2 468.8L163.7 462.3ZM339.9 363.6L348.3 362.1L349.9 373.7L341.3 374.4ZM202.3 491.1L200.1 499.3L188.9 495.8L191.9 487.8ZM167.2 474.9L162.3 482.0L153.0 474.8L158.6 468.3ZM129.5 337.0L121.7 333.5L127.1 323.1L134.5 327.4ZM183.0 282.9L179.3 275.2L190.1 270.7L193.0 278.8ZM349.3 393.3L357.8 394.0L356.2 406.3L347.7 404.8ZM261.9 498.4L264.2 506.7L252.0 509.4L250.6 501.0ZM200.3 498.8L198.1 507.0L186.2 503.3L189.2 495.3ZM264.0 506.1L266.3 514.3L253.4 517.2L251.9 508.8ZM198.2 506.5L196.1 514.7L183.4 510.7L186.4 502.7ZM187.7 503.2L184.8 511.2L172.5 506.1L176.2 498.4ZM176.2 268.6L172.5 260.9L184.8 255.8L187.7 263.8ZM197.0 260.9L194.7 252.7L207.6 249.8L209.1 258.2ZM363.4 359.4L371.8 357.8L373.6 371.7L365.1 372.4ZM185.0 510.7L182.1 518.7L169.1 513.3L172.8 505.6ZM194.9 253.2L192.6 245.0L206.3 242.0L207.7 250.4Z"/>
<path fill="#4163ad" d="M230.5 375.6L230.4 367.0L232.0 367.1L231.2 375.6ZM231.2 375.6L231.9 367.1L233.4 367.3L231.9 375.7ZM236.1 377.9L242.1 371.8L243.2 373.0L236.6 378.4ZM236.6 378.4L243.1 372.8L244.1 374.1L237.0 379.0ZM244.3 391.4L251.7 395.6L250.4 397.6L243.5 392.7ZM214.7 385.0L206.2 385.8L206.1 383.4L214.6 383.4ZM214.6 383.6L206.1 383.6L206.2 381.2L214.7 382.0ZM214.7 382.2L206.1 381.5L206.5 379.1L214.9 380.7ZM214.8 380.8L206.4 379.4L206.9 377.1L215.2 379.3ZM215.1 379.5L206.9 377.3L207.6 375.0L215.6 378.0ZM216.1 376.9L208.3 373.3L209.4 371.2L216.8 375.5ZM229.0 367.7L228.2 359.2L230.6 359.1L230.6 367.6ZM238.5 361.1L241.4 353.0L244.3 354.2L240.7 362.0ZM252.9 391.5L261.0 394.4L259.8 397.3L252.0 393.7ZM248.8 398.7L255.4 404.2L253.3 406.5L247.3 400.4ZM245.9 401.7L251.4 408.2L248.9 410.1L244.1 403.1ZM220.5 405.2L217.0 412.9L214.2 411.5L218.5 404.1ZM215.3 401.8L209.8 408.4L207.5 406.3L213.6 400.3ZM207.0 379.5L198.6 378.0L199.3 375.0L207.5 377.2ZM210.9 369.9L203.9 365.1L205.8 362.6L212.3 368.1ZM212.2 368.3L205.6 362.8L207.7 360.5L213.7 366.6ZM213.6 366.7L207.5 360.7L209.8 358.6L215.3 365.2ZM215.1 365.3L209.6 358.8L212.1 356.9L216.9 363.9ZM208.1 406.1L202.1 412.2L199.5 409.3L206.1 403.8ZM206.1 363.2L199.5 357.7L202.1 354.8L208.1 360.9ZM207.9 361.1L201.8 355.1L204.7 352.5L210.2 359.1ZM250.5 417.8L254.9 425.2L250.7 427.4L247.1 419.6ZM241.0 421.8L243.2 430.1L238.6 431.1L237.2 422.7ZM277.5 391.5L285.9 393.0L284.7 398.3L276.5 396.1ZM267.2 413.9L273.7 419.4L270.0 423.5L264.0 417.4ZM218.4 429.6L216.2 437.9L211.0 436.2L214.0 428.2ZM189.3 407.5L182.0 411.9L179.4 407.0L187.2 403.4ZM230.2 327.9L230.2 319.3L236.4 319.6L235.6 328.1ZM282.7 364.2L290.7 361.2L292.6 367.2L284.3 369.4ZM278.8 411.1L286.2 415.3L282.9 420.6L275.9 415.6ZM258.6 431.5L262.9 438.9L257.3 441.8L253.7 434.0ZM254.3 433.8L257.9 441.5L252.1 443.9L249.2 435.9ZM175.1 388.6L166.6 389.4L166.3 383.2L174.9 383.2ZM225.4 328.1L224.6 319.6L230.8 319.3L230.8 327.9ZM262.0 328.3L266.2 320.9L272.2 324.7L267.2 331.6ZM279.0 342.4L285.5 336.9L289.8 342.5L282.8 347.3ZM288.0 356.3L295.7 352.7L298.4 359.2L290.3 362.1ZM292.0 399.6L300.2 401.8L298.1 408.5L290.1 405.5ZM219.8 446.1L218.4 454.6L211.5 453.0L213.7 444.8ZM173.0 410.7L165.3 414.3L162.6 407.8L170.7 404.9ZM168.0 394.9L159.6 396.4L158.6 389.4L167.2 388.7ZM167.2 389.4L158.7 390.2L158.4 383.1L166.9 383.2ZM166.9 383.8L158.4 383.9L158.7 376.8L167.2 377.6ZM224.6 320.2L223.8 311.7L230.9 311.4L230.8 319.9ZM236.4 312.2L237.1 303.7L244.8 304.7L243.3 313.2ZM254.6 316.2L257.5 308.1L264.7 311.1L261.1 318.9ZM299.5 364.6L307.7 362.4L309.4 370.0L301.0 371.5ZM200.6 448.5L197.1 456.2L190.1 452.6L194.4 445.2ZM180.2 434.3L174.2 440.4L168.9 434.6L175.5 429.2ZM217.7 313.2L216.2 304.7L223.9 303.7L224.6 312.2ZM308.7 369.3L317.1 367.8L318.2 376.3L309.7 377.0ZM308.8 396.9L317.2 398.3L315.4 406.7L307.1 404.5ZM305.3 410.3L313.3 413.2L310.0 421.1L302.3 417.5ZM295.8 428.7L302.8 433.6L297.6 440.4L291.1 434.9ZM161.9 423.6L154.5 427.9L150.6 420.3L158.3 416.7ZM153.7 363.3L145.4 361.2L148.0 353.0L156.0 355.9ZM169.4 332.8L162.8 327.3L168.6 321.0L174.6 327.0ZM245.2 297.4L246.7 288.9L255.8 291.0L253.6 299.2ZM260.0 301.2L262.8 293.2L271.5 296.8L267.8 304.5ZM314.8 360.4L323.0 358.2L325.1 367.3L316.6 368.8ZM316.6 398.2L325.1 399.7L323.0 408.8L314.8 406.6ZM169.0 445.6L163.0 451.7L156.7 444.8L163.3 439.3ZM270.3 296.9L273.9 289.1L282.9 293.8L278.6 301.2ZM277.7 300.7L282.0 293.3L290.5 298.7L285.6 305.7ZM163.4 451.3L157.4 457.3L150.6 449.9L157.2 444.4ZM282.6 472.7L286.9 480.0L277.2 485.1L273.7 477.3ZM249.0 485.1L250.5 493.5L239.7 494.9L239.0 486.4ZM157.9 456.9L151.8 463.0L144.5 454.9L151.0 449.5ZM151.7 450.3L145.2 455.8L138.6 447.2L145.6 442.3ZM146.2 443.2L139.2 448.1L133.4 438.9L140.8 434.7ZM141.3 435.6L134.0 439.9L128.9 430.2L136.7 426.7ZM137.1 427.6L129.4 431.3L125.2 421.2L133.3 418.3ZM127.7 393.0L119.2 393.8L118.7 382.9L127.2 383.0ZM285.6 286.9L289.8 279.5L299.7 285.8L294.8 292.7ZM145.7 455.4L139.2 461.0L132.0 451.7L139.1 446.8ZM134.5 439.6L127.1 443.9L121.7 433.5L129.5 430.0ZM119.8 393.8L111.2 394.6L110.7 382.9L119.3 382.9ZM280.3 275.2L283.9 267.5L294.9 273.2L290.6 280.6ZM289.5 280.0L293.8 272.6L304.3 279.3L299.4 286.2ZM241.5 502.2L242.3 510.7L229.8 511.2L229.9 502.7ZM220.7 502.3L220.0 510.8L207.7 509.2L209.2 500.7ZM139.6 460.6L133.1 466.1L125.5 456.2L132.5 451.3ZM111.8 394.5L103.3 395.3L102.8 382.8L111.3 382.9ZM293.5 273.1L297.7 265.7L308.9 272.8L304.0 279.8ZM141.1 473.9L135.1 479.9L126.1 470.2L132.7 464.7ZM133.6 465.7L127.0 471.2L119.0 460.7L126.0 455.9ZM126.8 457.0L119.8 461.9L112.7 450.7L120.1 446.5ZM115.6 437.8L107.9 441.5L102.8 429.2L110.8 426.3ZM103.9 395.2L95.4 396.0L94.8 382.8L103.4 382.8ZM297.4 266.2L301.6 258.8L313.5 266.3L308.5 273.3ZM254.6 516.4L256.2 524.8L242.3 526.6L241.6 518.1ZM243.0 518.0L243.8 526.5L229.7 527.1L229.8 518.6ZM135.5 479.5L129.5 485.6L120.0 475.2L126.6 469.8ZM127.5 470.9L121.0 476.4L112.4 465.2L119.5 460.4ZM113.9 451.6L106.5 456.0L100.0 443.5L107.8 439.9ZM108.4 441.2L100.7 444.9L95.3 431.9L103.3 429.0ZM96.0 396.0L87.5 396.8L86.9 382.7L95.4 382.8Z"/>
<path fill="#3c56a6" d="M231.8 375.7L233.3 367.2L234.9 367.6L232.6 375.8ZM233.2 376.0L236.1 368.0L237.5 368.6L233.9 376.3ZM234.4 376.6L238.7 369.2L240.0 370.0L235.1 377.0ZM235.6 377.4L241.0 370.8L242.2 371.9L236.1 377.9ZM233.2 367.8L234.6 359.4L236.9 359.9L234.7 368.2ZM238.4 369.7L242.6 362.3L244.6 363.6L239.7 370.5ZM241.7 372.2L247.7 366.1L249.3 367.9L242.7 373.4ZM230.4 359.7L230.3 351.1L233.5 351.3L232.7 359.8ZM232.5 359.7L233.2 351.2L236.3 351.6L234.8 360.1ZM234.5 360.0L236.0 351.6L239.0 352.3L236.8 360.5ZM236.5 360.4L238.7 352.2L241.7 353.1L238.8 361.1ZM252.2 393.5L259.9 397.0L258.5 399.8L251.1 395.5ZM251.2 395.3L258.6 399.5L256.9 402.2L250.0 397.3ZM250.1 397.1L257.1 401.9L255.2 404.4L248.7 398.9ZM247.4 400.3L253.5 406.3L251.2 408.4L245.7 401.8ZM218.7 404.2L214.5 411.6L211.8 409.9L216.7 403.0ZM216.9 403.1L212.1 410.1L209.6 408.2L215.1 401.7ZM207.4 377.5L199.2 375.3L200.1 372.3L208.1 375.2ZM208.1 375.5L200.0 372.6L201.2 369.7L209.0 373.3ZM208.8 373.5L201.1 370.0L202.5 367.2L209.9 371.5ZM209.8 371.7L202.4 367.5L204.1 364.8L211.0 369.7ZM228.3 359.8L227.5 351.3L230.7 351.1L230.6 359.7ZM230.3 351.7L230.3 343.2L234.2 343.4L233.4 351.9ZM233.1 351.8L233.8 343.3L237.7 343.8L236.2 352.2ZM238.6 352.8L240.7 344.5L244.5 345.7L241.5 353.7ZM259.4 396.8L267.1 400.3L265.3 403.8L257.9 399.5ZM256.6 401.6L263.7 406.5L261.3 409.6L254.7 404.1ZM254.9 403.8L261.5 409.3L258.9 412.2L252.9 406.1ZM253.1 405.9L259.2 411.9L256.3 414.5L250.8 407.9ZM251.1 407.7L256.6 414.3L253.5 416.7L248.6 409.6ZM246.5 410.9L250.8 418.3L247.3 420.1L243.8 412.4ZM244.1 412.2L247.7 420.0L244.1 421.5L241.2 413.4ZM241.5 413.3L244.5 421.3L240.7 422.5L238.6 414.2ZM227.9 415.2L227.2 423.7L223.3 423.2L224.8 414.8ZM219.8 413.4L216.9 421.5L213.3 420.0L216.9 412.2ZM217.2 412.4L213.7 420.1L210.2 418.3L214.5 410.9ZM199.8 375.4L191.5 373.3L192.7 369.5L200.7 372.5ZM200.6 372.8L192.5 369.9L194.0 366.3L201.8 369.9ZM201.6 370.2L193.9 366.7L195.7 363.2L203.1 367.5ZM202.9 367.8L195.5 363.5L197.6 360.2L204.6 365.1ZM204.4 365.4L197.3 360.5L199.7 357.4L206.3 362.9ZM237.2 344.3L238.6 335.9L243.2 336.9L241.0 345.2ZM265.0 403.2L272.4 407.4L269.9 411.4L262.9 406.5ZM263.2 406.1L270.2 411.0L267.3 414.7L260.8 409.2ZM234.2 423.1L235.0 431.6L230.2 431.8L230.3 423.2ZM223.8 422.7L222.4 431.1L217.8 430.1L220.0 421.8ZM220.4 421.9L218.3 430.2L213.8 428.8L216.7 420.8ZM217.1 420.9L214.2 428.9L209.9 427.1L213.5 419.4ZM213.9 419.6L210.3 427.4L206.1 425.2L210.5 417.8ZM210.8 418.0L206.6 425.4L202.6 422.9L207.5 415.9ZM193.2 397.3L185.2 400.2L183.8 395.7L192.1 393.6ZM192.2 394.0L183.9 396.2L182.9 391.6L191.3 390.2ZM191.4 390.6L183.0 392.1L182.4 387.5L190.9 386.8ZM193.1 370.1L185.1 367.2L186.9 362.9L194.6 366.5ZM196.0 363.8L188.6 359.6L191.1 355.6L198.1 360.5ZM197.8 360.9L190.8 356.0L193.7 352.3L200.2 357.8ZM202.3 355.6L196.2 349.5L199.7 346.4L205.1 352.9ZM264.0 349.6L270.0 343.5L273.7 347.6L267.2 353.1ZM269.4 356.0L276.4 351.0L279.3 355.6L271.9 359.9ZM271.7 359.5L279.0 355.1L281.6 360.0L273.8 363.6ZM273.6 363.1L281.3 359.5L283.4 364.6L275.4 367.4ZM275.4 399.6L283.4 402.4L281.3 407.5L273.6 403.9ZM273.8 403.4L281.6 407.0L279.0 411.9L271.7 407.5ZM271.9 407.1L279.3 411.4L276.4 416.0L269.4 411.0ZM203.4 422.7L198.5 429.7L194.1 426.4L199.7 419.9ZM187.4 403.9L179.7 407.5L177.6 402.4L185.6 399.6ZM185.8 400.0L177.8 403.0L176.1 397.8L184.4 395.6ZM187.2 363.6L179.4 360.0L182.0 355.1L189.3 359.5ZM191.3 356.4L184.3 351.5L187.6 347.1L194.1 352.7ZM196.6 350.0L190.5 344.0L194.6 340.3L200.1 346.8ZM226.1 336.0L225.3 327.5L230.8 327.3L230.7 335.8ZM262.2 337.8L267.0 330.8L272.0 334.6L266.5 341.1ZM272.9 347.5L279.4 342.0L283.2 347.0L276.2 351.8ZM278.5 355.4L285.9 351.1L288.8 356.7L281.0 360.3ZM280.8 359.7L288.5 356.1L290.9 361.9L282.9 364.8ZM282.9 402.2L290.9 405.1L288.5 410.9L280.8 407.3ZM281.0 406.7L288.8 410.3L285.9 415.9L278.5 411.6ZM216.4 437.3L214.2 445.6L208.2 443.7L211.2 435.7ZM211.8 435.9L208.9 443.9L203.1 441.5L206.7 433.8ZM191.4 423.0L185.4 429.1L181.1 424.5L187.7 419.0ZM180.2 407.3L172.5 410.9L170.1 405.1L178.1 402.2ZM178.3 402.8L170.3 405.8L168.4 399.8L176.7 397.6ZM176.9 398.2L168.6 400.4L167.3 394.3L175.7 392.9ZM175.8 393.4L167.4 395.0L166.6 388.8L175.1 388.1ZM182.2 355.9L174.8 351.7L178.1 346.4L185.1 351.4ZM184.8 351.8L177.8 347.0L181.6 342.0L188.1 347.5ZM187.7 348.0L181.1 342.5L185.4 337.9L191.4 344.0ZM191.0 344.4L184.9 338.4L189.5 334.1L195.0 340.7ZM230.2 319.9L230.1 311.4L237.2 311.7L236.4 320.2ZM235.7 320.2L236.4 311.6L243.4 312.6L241.9 321.0ZM266.7 331.2L271.5 324.2L277.1 328.5L271.6 335.0ZM275.2 338.3L281.2 332.3L286.0 337.4L279.4 342.9ZM290.3 404.9L298.4 407.8L295.7 414.3L288.0 410.7ZM214.4 445.0L212.2 453.2L205.5 451.1L208.5 443.1ZM175.6 415.6L168.2 419.9L165.0 413.6L172.8 410.1ZM175.3 352.0L167.9 347.8L171.7 341.8L178.6 346.8ZM178.2 347.3L171.2 342.5L175.5 336.9L182.0 342.4ZM185.3 338.8L179.3 332.8L184.4 328.0L189.9 334.6ZM213.7 322.2L211.5 314.0L218.4 312.4L219.8 320.9ZM260.4 318.5L263.9 310.8L270.9 314.4L266.6 321.8ZM271.2 324.7L276.1 317.7L282.3 322.5L276.7 329.0ZM276.2 328.5L281.6 321.9L287.4 327.2L281.3 333.2ZM297.6 358.7L305.6 355.7L307.9 363.2L299.7 365.4ZM297.8 407.6L305.9 410.5L302.9 417.7L295.1 414.1ZM266.6 445.2L270.9 452.6L263.9 456.2L260.4 448.5ZM261.1 448.1L264.7 455.9L257.5 458.9L254.6 450.8ZM255.3 450.6L258.3 458.6L250.8 460.9L248.6 452.7ZM212.4 452.7L210.2 460.9L202.7 458.6L205.7 450.6ZM206.4 450.8L203.5 458.9L196.3 455.9L199.9 448.1ZM176.0 429.7L169.5 435.3L164.7 429.1L171.7 424.2ZM159.3 390.1L150.8 390.9L150.5 383.1L159.0 383.1ZM159.0 383.9L150.5 383.9L150.8 376.1L159.3 376.9ZM205.7 316.4L202.7 308.4L210.2 306.1L212.4 314.3ZM211.6 314.5L209.4 306.3L217.0 304.6L218.5 313.0ZM243.9 305.2L245.3 296.8L253.7 298.6L251.5 306.9ZM307.1 362.5L315.4 360.3L317.2 368.7L308.8 370.1ZM307.3 403.7L315.6 405.8L313.0 414.0L305.0 411.1ZM291.6 434.2L298.2 439.7L292.4 446.0L286.4 440.0ZM287.0 439.4L293.0 445.4L286.7 451.2L281.2 444.6ZM270.6 452.1L274.9 459.5L267.3 463.4L263.7 455.7ZM258.1 458.0L261.0 466.0L252.8 468.6L250.7 460.3ZM152.2 370.1L143.8 368.7L145.6 360.3L153.9 362.5ZM155.7 356.7L147.7 353.8L151.0 345.9L158.7 349.5ZM202.9 309.0L200.0 301.0L208.2 298.4L210.3 306.7ZM209.5 306.9L207.3 298.6L215.7 296.8L217.1 305.2ZM312.5 353.2L320.5 350.2L323.3 359.2L315.0 361.3ZM274.6 459.0L278.9 466.3L270.6 470.7L267.0 462.9ZM155.0 427.6L147.7 431.9L143.3 423.6L151.1 420.0ZM143.4 376.3L134.9 375.6L136.1 366.3L144.5 367.9ZM151.1 347.0L143.3 343.4L147.7 335.1L155.0 339.4ZM200.2 301.5L197.2 293.5L206.2 290.7L208.3 299.0ZM284.8 305.1L289.6 298.1L297.7 304.3L292.2 310.8ZM319.9 350.4L327.9 347.5L331.0 357.1L322.7 359.3ZM322.5 358.3L330.7 356.1L332.9 366.0L324.5 367.4ZM324.5 399.6L332.9 401.0L330.7 410.9L322.5 408.7ZM313.3 430.7L320.7 435.0L315.3 443.5L308.3 438.6ZM292.2 456.2L297.7 462.7L289.6 468.9L284.8 461.9ZM239.3 478.4L240.1 486.9L230.0 487.4L230.0 478.8ZM152.7 438.6L145.7 443.5L140.3 435.0L147.7 430.7ZM148.2 431.6L140.8 435.9L136.1 426.9L143.9 423.3ZM135.5 375.7L127.0 375.0L128.3 364.9L136.7 366.5ZM182.4 301.2L178.1 293.8L187.1 289.1L190.7 296.9ZM197.4 294.1L194.5 286.1L204.1 283.0L206.3 291.3ZM273.7 289.7L277.2 281.9L286.9 287.0L282.6 294.3ZM289.3 298.6L294.2 291.6L302.8 298.2L297.3 304.7ZM332.3 400.9L340.7 402.3L338.4 413.0L330.1 410.8ZM320.2 434.7L327.6 438.9L321.8 448.1L314.8 443.2ZM274.6 476.9L278.3 484.6L268.2 488.8L265.3 480.7ZM240.0 486.3L240.8 494.8L229.9 495.3L230.0 486.8ZM127.2 384.0L118.7 384.1L119.2 373.2L127.7 374.0ZM128.7 366.1L120.3 364.7L122.6 354.0L130.9 356.2ZM140.8 332.3L133.4 328.1L139.2 318.9L146.2 323.8ZM145.6 324.7L138.6 319.8L145.2 311.2L151.7 316.7ZM178.4 294.3L174.1 287.0L183.8 281.9L187.3 289.7ZM194.7 286.6L191.7 278.6L202.1 275.3L204.3 283.6ZM239.6 272.7L240.3 264.1L251.9 265.7L250.4 274.1ZM277.0 282.5L280.5 274.7L290.9 280.1L286.6 287.5ZM337.8 354.2L346.0 351.9L348.6 363.3L340.1 364.8ZM327.1 438.6L334.5 442.8L328.2 452.7L321.3 447.8ZM240.8 494.2L241.6 502.8L229.9 503.3L229.9 494.7ZM139.7 447.8L132.8 452.7L126.5 442.8L133.9 438.6ZM119.7 374.4L111.1 373.7L112.7 362.1L121.1 363.6ZM240.3 264.7L241.0 256.2L253.3 257.8L251.8 266.3ZM306.6 291.8L312.1 285.2L321.3 293.7L315.2 299.7ZM342.3 342.2L350.3 339.2L354.0 351.1L345.8 353.3ZM345.4 352.1L353.7 349.8L356.4 362.0L348.0 363.4ZM348.0 403.6L356.4 405.0L353.7 417.2L345.4 414.9ZM334.0 442.5L341.4 446.8L334.7 457.3L327.8 452.4ZM133.2 452.4L126.3 457.3L119.6 446.8L127.0 442.5ZM127.6 443.6L120.2 447.9L114.5 436.9L122.2 433.3ZM127.0 324.5L119.6 320.2L126.3 309.7L133.2 314.6ZM132.5 315.7L125.5 310.8L133.1 300.9L139.6 306.4ZM189.2 271.7L186.2 263.7L198.1 260.0L200.3 268.2ZM240.9 256.8L241.6 248.3L254.8 250.0L253.2 258.4ZM302.9 279.0L307.7 272.0L318.2 280.0L312.7 286.6ZM355.8 404.9L364.2 406.4L361.3 419.3L353.1 417.0ZM242.2 510.1L243.0 518.6L229.8 519.2L229.8 510.6ZM120.8 447.6L113.4 451.9L107.3 440.2L115.0 436.6ZM103.4 384.2L94.8 384.2L95.4 371.0L103.9 371.8ZM103.8 373.1L95.3 372.4L97.0 359.2L105.4 360.8ZM120.1 320.5L112.7 316.3L119.8 305.1L126.8 310.0ZM166.4 273.8L162.1 266.4L173.8 260.3L177.4 268.0ZM241.6 248.9L242.3 240.4L256.2 242.2L254.6 250.6ZM307.4 272.5L312.2 265.4L323.4 274.0L317.9 280.5ZM316.8 279.6L322.2 273.0L332.6 282.5L326.5 288.5ZM360.8 347.9L369.0 345.6L372.0 359.3L363.6 360.7ZM347.8 450.4L355.2 454.6L347.7 466.5L340.7 461.5ZM120.3 461.5L113.3 466.5L105.8 454.6L113.2 450.4ZM95.4 384.2L86.9 384.3L87.5 370.2L96.0 371.0ZM97.4 360.7L89.0 359.3L92.0 345.6L100.2 347.9ZM113.2 316.6L105.8 312.4L113.3 300.5L120.3 305.5ZM119.5 306.6L112.4 301.8L121.0 290.6L127.5 296.1ZM162.4 266.9L158.0 259.5L170.5 253.0L174.1 260.8ZM183.6 256.8L180.7 248.8L194.1 244.6L196.2 252.9Z"/>
<path fill="#3848a0" d="M232.5 375.8L234.7 367.6L236.2 368.0L233.3 376.0ZM233.8 376.3L237.4 368.5L238.8 369.3L234.5 376.6ZM235.0 377.0L239.9 369.9L241.2 370.9L235.6 377.4ZM230.4 367.6L230.4 359.1L232.8 359.2L232.0 367.7ZM231.8 367.7L232.5 359.1L234.9 359.5L233.3 367.9ZM234.5 368.1L236.7 359.9L239.0 360.6L236.0 368.6ZM235.9 368.5L238.7 360.5L240.9 361.4L237.3 369.1ZM237.1 369.1L240.7 361.3L242.8 362.4L238.5 369.8ZM239.5 370.4L244.4 363.4L246.3 364.9L240.8 371.4ZM240.6 371.3L246.1 364.7L247.9 366.3L241.8 372.3ZM235.9 352.2L237.3 343.8L241.1 344.6L238.9 352.8ZM258.1 399.2L265.5 403.5L263.4 406.8L256.4 401.9ZM248.9 409.4L253.8 416.4L250.5 418.5L246.2 411.1ZM238.9 414.2L241.1 422.4L237.3 423.2L235.9 414.8ZM236.2 414.8L237.7 423.2L233.8 423.7L233.1 415.2ZM233.4 415.1L234.2 423.6L230.3 423.8L230.3 415.3ZM230.7 415.3L230.7 423.8L226.8 423.6L227.6 415.1ZM225.1 414.8L223.7 423.2L219.9 422.4L222.1 414.2ZM222.4 414.2L220.3 422.5L216.5 421.3L219.5 413.3ZM214.8 411.1L210.5 418.5L207.2 416.4L212.1 409.4ZM212.4 409.6L207.5 416.7L204.4 414.3L209.9 407.7ZM210.2 407.9L204.7 414.5L201.8 411.9L207.9 405.9ZM222.1 352.8L219.9 344.6L223.7 343.8L225.1 352.2ZM224.8 352.2L223.3 343.8L227.2 343.3L227.9 351.8ZM227.6 351.9L226.8 343.4L230.7 343.2L230.7 351.7ZM230.3 343.8L230.2 335.2L235.0 335.4L234.2 343.9ZM233.8 343.9L234.5 335.4L239.1 336.0L237.6 344.4ZM261.1 408.9L267.6 414.3L264.5 417.8L258.4 411.7ZM258.7 411.4L264.8 417.5L261.3 420.6L255.9 414.1ZM256.2 413.8L261.7 420.3L258.0 423.2L253.1 416.2ZM253.5 415.9L258.4 422.9L254.4 425.4L250.2 418.0ZM237.6 422.6L239.1 431.0L234.5 431.6L233.8 423.1ZM230.7 423.2L230.8 431.8L226.0 431.6L226.8 423.1ZM227.2 423.1L226.5 431.6L221.9 431.0L223.4 422.6ZM207.9 416.2L203.0 423.2L199.3 420.3L204.8 413.8ZM194.4 366.9L186.6 363.3L188.8 359.1L196.2 363.5ZM199.9 358.1L193.4 352.7L196.5 349.2L202.6 355.3ZM220.0 345.2L217.8 336.9L222.4 335.9L223.8 344.3ZM223.4 344.4L221.9 336.0L226.5 335.4L227.2 343.9ZM226.8 343.9L226.0 335.4L230.8 335.2L230.7 343.8ZM230.3 335.8L230.2 327.3L235.7 327.5L234.9 336.0ZM266.9 352.7L273.4 347.1L276.7 351.5L269.7 356.4ZM275.2 367.0L283.2 364.0L284.9 369.2L276.6 371.4ZM276.6 395.6L284.9 397.8L283.2 403.0L275.2 400.0ZM269.7 410.6L276.7 415.5L273.4 419.9L266.9 414.3ZM214.4 428.4L211.6 436.4L206.5 434.3L210.1 426.6ZM210.6 426.8L207.0 434.6L202.1 432.0L206.5 424.7ZM206.9 424.9L202.6 432.3L198.0 429.4L203.0 422.4ZM184.5 396.1L176.3 398.3L175.1 393.0L183.5 391.5ZM183.6 392.0L175.2 393.6L174.5 388.1L183.0 387.4ZM183.0 387.9L174.5 388.7L174.3 383.2L182.8 383.3ZM189.1 359.9L181.7 355.6L184.6 351.0L191.6 356.0ZM193.8 353.1L187.3 347.6L191.0 343.5L197.0 349.6ZM266.0 340.7L271.5 334.1L276.1 338.4L270.0 344.4ZM269.6 344.0L275.6 337.9L279.9 342.5L273.3 348.0ZM275.9 351.4L282.9 346.4L286.2 351.7L278.8 355.9ZM284.3 397.6L292.6 399.8L290.7 405.8L282.7 402.8ZM207.3 434.0L203.7 441.8L198.1 438.9L202.4 431.5ZM188.1 419.5L181.6 425.0L177.8 420.0L184.8 415.2ZM185.1 415.6L178.1 420.6L174.8 415.3L182.2 411.1ZM182.5 411.6L175.1 415.9L172.2 410.3L180.0 406.7ZM180.0 360.3L172.2 356.7L175.1 351.1L182.5 355.4ZM271.1 334.6L276.6 328.0L281.7 332.8L275.7 338.8ZM262.6 438.4L266.9 445.8L260.6 449.0L257.1 441.2ZM257.7 441.0L261.3 448.7L254.8 451.4L251.9 443.3ZM252.5 443.1L255.5 451.1L248.8 453.2L246.6 445.0ZM209.1 443.3L206.2 451.4L199.7 448.7L203.3 441.0ZM185.8 428.7L179.8 434.7L175.0 429.6L181.6 424.1ZM182.0 424.6L175.5 430.1L171.2 424.5L178.2 419.7ZM178.6 420.2L171.7 425.2L167.9 419.2L175.3 415.0ZM181.6 342.9L175.0 337.4L179.8 332.3L185.8 338.3ZM208.5 323.9L205.5 315.9L212.2 313.8L214.4 322.0ZM265.9 321.4L270.2 314.0L276.8 318.2L271.8 325.1ZM280.8 332.7L286.8 326.6L292.1 332.4L285.5 337.8ZM299.7 401.6L307.9 403.8L305.6 411.3L297.6 408.3ZM172.1 424.8L165.2 429.8L161.0 423.2L168.4 418.9ZM161.5 402.4L153.3 404.6L151.6 397.0L160.0 395.5ZM160.2 396.3L151.7 397.8L150.7 390.1L159.2 389.4ZM168.4 348.1L161.0 343.8L165.2 337.2L172.1 342.2ZM171.7 342.8L164.7 337.9L169.5 331.7L176.0 337.3ZM175.5 337.8L168.9 332.4L174.2 326.6L180.2 332.7ZM250.7 306.7L252.8 298.4L261.0 301.0L258.1 309.0ZM257.3 308.7L260.2 300.7L268.1 304.0L264.5 311.7ZM263.7 311.3L267.3 303.6L274.9 307.5L270.6 314.9ZM269.9 314.5L274.1 307.1L281.3 311.7L276.4 318.7ZM275.7 318.2L280.6 311.2L287.4 316.4L281.9 322.9ZM281.2 322.4L286.7 315.8L293.0 321.6L287.0 327.6ZM305.0 355.9L313.0 353.0L315.6 361.2L307.3 363.3ZM264.5 455.3L268.1 463.0L260.2 466.3L257.3 458.3ZM203.7 458.3L200.8 466.3L192.9 463.0L196.5 455.3ZM169.9 434.9L163.4 440.4L158.2 433.6L165.2 428.7ZM165.7 429.4L158.7 434.3L154.1 427.1L161.5 422.9ZM151.1 383.9L142.5 384.0L142.9 375.4L151.4 376.2ZM151.3 377.0L142.8 376.3L143.9 367.8L152.3 369.3ZM158.3 350.3L150.6 346.7L154.5 339.1L161.9 343.4ZM161.5 344.1L154.1 339.9L158.7 332.7L165.7 337.6ZM165.2 338.3L158.2 333.4L163.4 326.6L169.9 332.1ZM267.0 304.1L270.6 296.3L278.9 300.7L274.6 308.0ZM273.8 307.6L278.0 300.2L285.9 305.2L281.0 312.2ZM280.2 311.7L285.1 304.6L292.5 310.3L287.0 316.9ZM286.3 316.3L291.8 309.7L298.7 316.0L292.6 322.0ZM267.8 462.5L271.5 470.2L262.8 473.8L260.0 465.8ZM163.9 440.0L157.3 445.5L151.6 438.1L158.7 433.2ZM159.2 434.0L152.2 438.9L147.2 431.0L154.6 426.8ZM143.1 384.0L134.6 384.0L135.0 374.6L143.5 375.4ZM144.4 368.8L135.9 367.3L138.0 358.2L146.2 360.4ZM146.0 361.3L137.7 359.2L140.5 350.2L148.5 353.2ZM148.2 354.0L140.2 351.2L143.8 342.5L151.5 346.2ZM154.6 340.2L147.2 336.0L152.2 328.1L159.2 333.0ZM158.7 333.8L151.6 328.9L157.3 321.5L163.9 327.0ZM238.3 288.5L239.0 280.0L249.1 281.3L247.5 289.7ZM291.4 310.2L296.9 303.6L304.3 310.4L298.3 316.4ZM271.2 469.7L274.9 477.4L265.5 481.3L262.6 473.3ZM135.2 384.0L126.6 384.0L127.1 373.9L135.6 374.7ZM136.5 367.4L128.1 366.0L130.3 356.1L138.5 358.3ZM147.7 336.3L140.3 332.0L145.7 323.5L152.7 328.4ZM152.1 329.2L145.1 324.4L151.3 316.3L157.8 321.8ZM239.0 280.6L239.7 272.1L250.5 273.5L249.0 281.9ZM281.7 293.8L285.9 286.4L295.1 292.2L290.2 299.2ZM296.5 304.0L301.9 297.5L310.0 304.8L303.9 310.9ZM327.4 347.7L335.4 344.7L338.7 355.1L330.4 357.3ZM330.1 356.2L338.4 354.0L340.7 364.7L332.3 366.1ZM297.3 462.3L302.8 468.8L294.2 475.4L289.3 468.4ZM127.6 375.0L119.1 374.3L120.5 363.5L128.9 365.0ZM293.8 292.1L298.7 285.0L308.0 292.2L302.4 298.7ZM301.5 297.9L307.0 291.4L315.6 299.3L309.6 305.3ZM334.8 344.9L342.8 341.9L346.3 353.1L338.1 355.3ZM340.1 402.2L348.6 403.7L346.0 415.1L337.8 412.8ZM302.4 468.3L308.0 474.8L298.7 482.0L293.8 474.9ZM119.3 384.1L110.7 384.1L111.2 372.4L119.8 373.2ZM120.9 364.8L112.4 363.3L115.0 351.9L123.2 354.2ZM133.9 328.4L126.5 324.2L132.8 314.3L139.7 319.2ZM139.1 320.2L132.0 315.3L139.2 306.0L145.7 311.6ZM174.4 287.5L170.1 280.1L180.5 274.7L184.0 282.5ZM191.9 279.2L188.9 271.2L200.1 267.7L202.3 275.9ZM298.3 285.5L303.2 278.5L313.1 286.1L307.6 292.6ZM307.6 474.4L313.1 480.9L303.2 488.5L298.3 481.5ZM111.3 384.1L102.8 384.2L103.3 371.7L111.8 372.5ZM111.7 373.7L103.2 373.0L104.8 360.7L113.3 362.2ZM113.0 363.4L104.6 362.0L107.3 349.8L115.6 352.1ZM170.4 280.6L166.1 273.2L177.1 267.5L180.7 275.2ZM311.7 285.7L317.2 279.1L326.9 288.1L320.9 294.1ZM349.7 339.4L357.7 336.4L361.7 349.1L353.5 351.2ZM353.1 350.0L361.3 347.7L364.2 360.6L355.8 362.1ZM340.9 446.5L348.3 450.7L341.2 461.9L334.2 457.0ZM312.7 480.4L318.2 487.0L307.7 495.0L302.9 488.0ZM105.2 362.1L96.8 360.6L99.7 347.7L107.9 350.0ZM126.0 311.1L119.0 306.3L127.0 295.8L133.6 301.3ZM186.4 264.3L183.4 256.3L196.1 252.3L198.2 260.5ZM357.2 336.6L365.2 333.7L369.4 347.1L361.1 349.2ZM363.6 406.3L372.0 407.7L369.0 421.4L360.8 419.1ZM317.9 486.5L323.4 493.0L312.2 501.6L307.4 494.5ZM95.9 372.4L87.4 371.7L89.2 357.8L97.6 359.4Z"/>
<path fill="#6a9fcf" d="M223.6 387.5L216.3 391.8L215.5 390.4L223.3 386.8ZM223.3 386.9L215.6 390.5L215.0 389.1L223.0 386.2ZM223.0 386.3L215.0 389.2L214.6 387.7L222.8 385.5ZM222.8 381.5L214.6 379.3L215.0 377.8L223.0 380.7ZM223.0 380.8L215.0 377.9L215.6 376.5L223.3 380.1ZM227.1 376.3L223.5 368.6L224.9 368.0L227.8 376.0ZM227.7 376.0L224.8 368.0L226.3 367.6L228.5 375.8ZM237.3 397.9L240.9 405.6L238.7 406.5L235.9 398.5ZM236.0 398.4L239.0 406.4L236.7 407.1L234.5 398.9ZM234.7 398.8L236.9 407.1L234.6 407.6L233.2 399.2ZM222.6 397.3L218.4 404.7L216.4 403.4L221.3 396.5ZM254.3 383.4L262.9 383.3L262.7 386.5L254.2 385.7ZM254.3 385.5L262.8 386.2L262.4 389.3L253.9 387.8ZM212.3 398.9L205.8 404.4L203.9 401.9L210.9 397.1ZM211.0 397.3L204.1 402.2L202.4 399.5L209.8 395.3ZM209.0 393.7L201.2 397.3L200.0 394.4L208.1 391.5ZM243.8 354.6L247.3 346.9L250.8 348.7L246.5 356.1ZM246.2 355.9L250.5 348.5L253.8 350.6L248.9 357.6ZM248.6 357.4L253.5 350.3L256.6 352.7L251.1 359.3ZM261.2 375.1L269.4 372.9L270.2 376.7L261.8 378.1ZM206.3 404.1L199.7 409.6L197.3 406.5L204.4 401.6ZM204.6 401.9L197.6 406.8L195.5 403.5L202.9 399.2ZM203.1 399.5L195.7 403.8L193.9 400.3L201.6 396.8ZM250.2 349.0L254.4 341.6L258.4 344.1L253.5 351.1ZM267.8 369.7L275.8 366.8L277.2 371.3L268.9 373.4ZM269.7 390.2L278.1 391.6L277.1 396.2L268.8 394.0ZM268.9 393.6L277.2 395.7L275.8 400.2L267.8 397.3ZM247.5 419.4L251.1 427.1L246.8 428.9L243.9 420.9ZM244.3 420.8L247.2 428.8L242.7 430.2L240.6 421.9ZM207.5 351.1L202.6 344.1L206.6 341.6L210.8 349.0ZM210.5 349.2L206.1 341.8L210.3 339.6L213.9 347.4ZM213.5 347.6L209.9 339.9L214.2 338.1L217.1 346.1ZM278.2 383.3L286.7 383.2L286.5 388.7L278.0 387.9ZM247.0 428.2L250.0 436.2L244.8 437.9L242.6 429.6ZM191.6 411.0L184.6 416.0L181.7 411.4L189.1 407.1ZM214.0 338.8L211.0 330.8L216.2 329.1L218.4 337.4ZM286.1 383.2L294.7 383.2L294.4 389.4L285.9 388.6ZM230.8 439.1L230.8 447.7L224.6 447.4L225.4 438.9ZM241.2 320.9L242.6 312.4L249.5 314.0L247.3 322.2ZM257.1 325.8L260.6 318.0L266.9 321.2L262.6 328.6ZM275.7 428.2L281.7 434.2L276.6 439.0L271.1 432.4ZM271.6 432.0L277.1 438.5L271.5 442.8L266.7 435.8ZM247.3 444.8L249.5 453.0L242.6 454.6L241.2 446.1ZM199.0 438.7L194.8 446.1L188.8 442.3L193.8 435.4ZM194.3 435.8L189.5 442.8L183.9 438.5L189.4 432.0ZM193.8 331.6L188.8 324.7L194.8 320.9L199.0 328.3ZM302.0 383.1L310.5 383.1L310.2 390.9L301.7 390.1ZM281.3 433.8L287.4 439.8L281.6 445.1L276.2 438.5ZM249.4 452.5L251.6 460.7L244.0 462.4L242.5 454.0ZM230.9 455.0L230.9 463.5L223.1 463.2L223.9 454.7ZM184.8 438.5L179.4 445.1L173.6 439.8L179.7 433.8ZM189.2 325.1L184.2 318.2L190.8 314.0L195.1 321.4ZM194.4 321.8L190.1 314.4L197.1 310.8L200.6 318.5ZM302.3 349.5L310.0 345.9L313.3 353.8L305.3 356.7ZM299.5 422.9L306.9 427.1L302.3 434.3L295.3 429.4ZM251.5 460.1L253.7 468.4L245.3 470.2L243.9 461.8ZM244.7 461.7L246.2 470.1L237.7 471.2L237.0 462.7ZM230.9 462.9L231.0 471.5L222.4 471.1L223.2 462.6ZM224.0 462.7L223.3 471.2L214.8 470.1L216.3 461.7ZM156.0 411.1L148.0 414.0L145.4 405.8L153.7 403.7ZM153.9 404.5L145.6 406.7L143.8 398.3L152.2 396.9ZM306.0 339.4L313.3 335.1L317.7 343.4L309.9 347.0ZM306.4 426.8L313.8 431.0L308.8 438.9L301.8 434.0ZM194.0 462.9L190.4 470.7L182.1 466.3L186.4 459.0ZM151.5 420.8L143.8 424.5L140.2 415.8L148.2 413.0ZM148.5 413.8L140.5 416.8L137.7 407.8L146.0 405.7ZM186.4 308.0L182.1 300.7L190.4 296.3L194.0 304.1ZM230.0 288.2L230.0 279.6L240.1 280.1L239.3 288.6ZM262.6 293.7L265.5 285.7L274.9 289.6L271.2 297.3ZM312.8 335.4L320.2 331.1L324.9 340.1L317.1 343.7ZM325.5 391.3L334.0 392.0L332.7 402.1L324.3 400.5ZM141.1 416.6L133.1 419.5L130.0 409.9L138.3 407.7ZM162.7 316.4L156.7 310.4L164.1 303.6L169.6 310.2ZM265.3 286.3L268.2 278.2L278.3 282.4L274.6 290.1ZM333.4 392.0L341.9 392.7L340.5 403.5L332.1 402.0ZM327.7 418.3L335.8 421.2L331.6 431.3L323.9 427.6ZM310.0 449.5L316.5 454.9L309.2 463.0L303.1 456.9ZM179.3 473.2L175.1 480.6L165.9 474.8L170.8 467.8ZM133.6 419.3L125.6 422.3L122.3 411.9L130.6 409.7ZM128.9 402.0L120.5 403.5L119.1 392.7L127.6 392.0ZM157.1 310.9L151.0 304.8L159.1 297.5L164.5 304.0ZM163.7 304.7L158.2 298.2L166.8 291.6L171.7 298.6ZM229.9 272.3L229.9 263.7L241.6 264.2L240.8 272.8ZM268.0 278.8L270.9 270.7L281.7 275.2L278.0 282.9ZM308.7 304.4L314.7 298.4L322.6 307.0L316.1 312.5ZM326.5 327.4L333.9 323.1L339.3 333.5L331.5 337.0ZM341.3 392.6L349.9 393.3L348.3 404.9L339.9 403.4ZM335.2 421.0L343.3 423.9L338.8 434.7L331.1 431.0ZM259.8 490.8L262.1 499.0L250.7 501.6L249.2 493.1ZM193.0 488.2L190.1 496.3L179.3 491.8L183.0 484.1ZM175.4 480.1L171.2 487.5L161.3 481.2L166.2 474.3ZM121.1 403.4L112.7 404.9L111.1 393.3L119.7 392.6ZM229.9 264.3L229.8 255.8L242.3 256.3L241.5 264.8ZM270.7 271.3L273.6 263.3L285.1 268.0L281.4 275.8ZM314.3 298.8L320.3 292.7L328.8 301.9L322.2 307.4ZM333.4 323.4L340.8 319.1L346.5 330.1L338.8 333.7ZM342.7 423.7L350.7 426.6L346.0 438.1L338.2 434.4ZM338.8 433.3L346.5 436.9L340.8 447.9L333.4 443.6ZM190.3 495.7L187.4 503.7L175.9 499.0L179.6 491.2ZM171.5 487.0L167.2 494.4L156.7 487.7L161.6 480.8ZM118.7 424.8L110.7 427.8L107.0 415.9L115.2 413.7ZM113.3 404.8L104.8 406.3L103.2 394.0L111.7 393.3ZM145.8 299.7L139.7 293.7L148.9 285.2L154.4 291.8ZM229.8 256.4L229.8 247.8L243.0 248.4L242.2 256.9ZM273.3 263.8L276.2 255.8L288.5 260.9L284.8 268.6ZM319.9 293.1L325.9 287.1L334.9 296.8L328.3 302.3ZM357.2 393.9L365.7 394.6L364.0 407.8L355.6 406.2ZM350.2 426.3L358.2 429.2L353.1 441.5L345.4 437.8ZM167.5 493.9L163.3 501.3L152.1 494.2L157.0 487.2ZM111.3 427.6L103.3 430.6L99.3 417.9L107.5 415.8ZM105.4 406.2L97.0 407.8L95.3 394.6L103.8 393.9ZM218.8 256.9L218.0 248.4L231.2 247.8L231.2 256.4ZM229.8 248.4L229.7 239.9L243.8 240.5L243.0 249.0ZM276.0 256.3L278.9 248.3L291.9 253.7L288.2 261.4ZM325.5 287.5L331.5 281.4L341.0 291.8L334.4 297.2ZM365.1 394.6L373.6 395.3L371.8 409.2L363.4 407.6ZM357.7 429.0L365.7 431.9L360.3 444.9L352.6 441.2ZM353.2 439.9L361.0 443.5L354.5 456.0L347.1 451.6ZM334.4 469.8L341.0 475.2L331.5 485.6L325.5 479.5ZM97.6 407.6L89.2 409.2L87.4 395.3L95.9 394.6ZM103.3 338.0L95.3 335.1L100.7 322.1L108.4 325.8ZM143.1 280.5L137.6 274.0L148.8 265.4L153.6 272.5ZM218.0 249.0L217.2 240.5L231.3 239.9L231.2 248.4Z"/>
<path fill="#7fb2d8" d="M223.3 380.2L215.5 376.6L216.3 375.2L223.6 379.5ZM223.6 379.6L216.2 375.3L217.0 374.0L224.0 378.9ZM224.0 379.0L216.9 374.1L217.9 372.8L224.4 378.4ZM224.4 378.4L217.8 373.0L218.9 371.8L224.9 377.9ZM224.9 377.9L218.8 371.9L220.0 370.8L225.4 377.4ZM225.4 377.4L219.8 370.9L221.1 369.9L226.0 377.0ZM225.9 377.0L221.0 370.0L222.3 369.2L226.6 376.6ZM226.5 376.6L222.2 369.3L223.6 368.5L227.2 376.3ZM221.5 396.6L216.6 403.6L214.7 402.1L220.2 395.6ZM220.4 395.7L214.9 402.3L213.1 400.7L219.2 394.7ZM219.3 394.8L213.3 400.9L211.7 399.1L218.3 393.6ZM218.4 393.8L211.9 399.3L210.4 397.4L217.4 392.5ZM217.5 392.7L210.6 397.6L209.3 395.6L216.7 391.4ZM216.8 391.5L209.4 395.8L208.3 393.7L216.1 390.1ZM216.1 390.3L208.4 393.9L207.5 391.7L215.5 388.9ZM215.6 389.0L207.6 392.0L206.9 389.7L215.1 387.5ZM261.8 377.8L270.2 376.3L270.7 380.2L262.2 380.9ZM262.1 380.6L270.6 379.8L270.8 383.7L262.3 383.7ZM262.3 383.3L270.8 383.3L270.6 387.2L262.1 386.4ZM262.2 386.1L270.7 386.8L270.2 390.7L261.8 389.2ZM261.8 388.9L270.2 390.3L269.4 394.1L261.2 391.9ZM261.2 391.6L269.5 393.7L268.3 397.5L260.3 394.5ZM269.6 376.4L278.0 374.9L278.6 379.5L270.1 380.2ZM270.2 383.3L278.8 383.2L278.6 388.0L270.1 387.2ZM270.1 386.8L278.6 387.5L278.0 392.1L269.6 390.6ZM202.6 411.7L196.5 417.8L193.4 414.3L199.9 408.9ZM238.5 336.5L240.0 328.1L245.3 329.3L243.1 337.5ZM250.4 340.2L254.0 332.4L258.9 335.0L254.5 342.3ZM197.0 417.4L191.0 423.5L187.3 419.4L193.8 413.9ZM183.0 379.6L174.5 378.9L175.2 373.4L183.6 375.0ZM206.5 342.3L202.1 335.0L207.0 332.4L210.6 340.2ZM210.1 340.4L206.5 332.7L211.6 330.6L214.4 338.6ZM239.9 328.7L241.3 320.3L247.4 321.6L245.2 329.9ZM253.7 333.0L257.3 325.2L262.9 328.1L258.6 335.5ZM285.9 388.1L294.4 388.8L293.6 395.0L285.2 393.4ZM240.4 438.2L242.0 446.6L235.8 447.4L235.1 438.9ZM235.6 438.9L236.4 447.4L230.2 447.7L230.2 439.1ZM246.6 322.0L248.8 313.8L255.5 315.9L252.5 323.9ZM251.9 323.7L254.8 315.6L261.3 318.3L257.7 326.0ZM294.1 383.2L302.6 383.1L302.3 390.2L293.8 389.4ZM293.8 388.7L302.4 389.4L301.4 396.4L293.0 394.9ZM293.1 394.2L301.6 395.6L300.0 402.5L291.8 400.3ZM236.4 446.8L237.2 455.3L230.1 455.6L230.2 447.1ZM230.8 447.1L230.9 455.6L223.8 455.3L224.6 446.8ZM167.2 378.3L158.6 377.6L159.6 370.6L168.0 372.1ZM301.0 395.5L309.4 397.0L307.7 404.6L299.5 402.4ZM276.7 438.0L282.3 444.5L276.1 449.3L271.2 442.3ZM243.3 453.8L244.8 462.3L237.1 463.3L236.4 454.8ZM237.1 454.7L237.9 463.2L230.1 463.5L230.1 455.0ZM184.3 329.0L178.7 322.5L184.9 317.7L189.8 324.7ZM299.1 343.4L306.5 339.1L310.4 346.7L302.7 350.3ZM237.8 462.6L238.6 471.1L230.0 471.5L230.1 462.9ZM185.3 448.8L180.4 455.8L173.6 450.6L179.1 444.1ZM184.6 318.7L179.7 311.7L186.9 307.1L191.1 314.5ZM190.4 314.9L186.1 307.5L193.7 303.6L197.3 311.3ZM292.0 321.4L298.0 315.3L304.3 322.2L297.7 327.7ZM187.2 459.4L183.0 466.8L175.1 461.8L180.0 454.8ZM180.8 455.3L175.9 462.4L168.5 456.7L174.0 450.1ZM146.2 406.6L138.0 408.8L135.9 399.7L144.4 398.2ZM320.3 415.6L328.3 418.5L324.4 427.9L316.7 424.2ZM317.1 423.3L324.9 426.9L320.2 435.9L312.8 431.6ZM303.8 444.4L310.4 449.9L303.6 457.3L297.6 451.3ZM190.7 470.1L187.1 477.9L178.1 473.2L182.4 465.8ZM183.3 466.3L179.0 473.7L170.5 468.3L175.4 461.3ZM136.7 400.5L128.3 402.1L127.0 392.0L135.5 391.3ZM140.7 351.4L132.7 348.5L136.6 339.1L144.3 342.8ZM168.8 310.8L163.3 304.3L171.4 298.1L176.2 305.1ZM221.7 288.6L220.9 280.1L231.0 279.6L231.0 288.2ZM256.7 283.6L258.9 275.3L269.3 278.6L266.3 286.6ZM319.7 331.4L327.0 327.1L332.1 336.8L324.3 340.3ZM333.3 374.0L341.8 373.2L342.3 384.1L333.8 384.0ZM333.8 383.0L342.3 382.9L341.8 393.8L333.3 393.0ZM324.3 426.7L332.1 430.2L327.0 439.9L319.7 435.6ZM187.3 477.3L183.8 485.1L174.1 480.0L178.4 472.7ZM133.3 348.7L125.2 345.8L129.4 335.7L137.1 339.4ZM212.0 281.9L210.5 273.5L221.3 272.1L222.0 280.6ZM221.0 280.7L220.2 272.2L231.1 271.7L231.0 280.2ZM331.5 430.0L339.3 433.5L333.9 443.9L326.5 439.6ZM316.1 454.5L322.6 460.0L314.7 468.6L308.7 462.6ZM184.0 484.5L180.5 492.3L170.1 486.9L174.4 479.5ZM126.2 422.1L118.2 425.1L114.7 413.9L122.9 411.7ZM125.8 346.0L117.7 343.1L122.2 332.3L129.9 336.0ZM151.4 305.3L145.4 299.3L154.0 291.4L159.5 297.9ZM158.6 298.7L153.0 292.2L162.3 285.0L167.2 292.1ZM220.2 272.8L219.4 264.2L231.1 263.7L231.1 272.3ZM349.2 372.5L357.7 371.7L358.2 384.2L349.7 384.1ZM322.2 459.6L328.8 465.1L320.3 474.3L314.3 468.2ZM180.7 491.8L177.1 499.5L166.1 493.8L170.4 486.4ZM118.3 343.3L110.3 340.4L115.0 328.9L122.8 332.6ZM153.4 292.6L147.9 286.1L157.8 278.5L162.7 285.5ZM219.5 264.8L218.7 256.3L231.2 255.8L231.1 264.3ZM262.8 260.5L264.9 252.3L277.6 256.3L274.6 264.3ZM340.2 319.4L347.6 315.1L353.7 326.8L346.0 330.4ZM346.0 436.6L353.7 440.2L347.6 451.9L340.2 447.6ZM328.3 464.7L334.9 470.2L325.9 479.9L319.9 473.9ZM177.4 499.0L173.8 506.7L162.1 500.6L166.4 493.2ZM110.8 340.7L102.8 337.8L107.9 325.5L115.6 329.2ZM140.1 294.1L134.1 288.1L143.8 279.1L149.3 285.7ZM148.3 286.6L142.8 280.0L153.3 272.0L158.1 279.0ZM264.8 252.9L266.9 244.6L280.3 248.8L277.4 256.8ZM347.1 315.4L354.5 311.0L361.0 323.5L353.2 327.1ZM174.1 506.2L170.5 514.0L158.0 507.5L162.4 500.1ZM163.6 500.8L159.4 508.2L147.5 500.7L152.5 493.7ZM103.8 430.4L95.8 433.3L91.6 419.9L99.9 417.8ZM134.5 288.5L128.4 282.5L138.8 273.0L144.2 279.6ZM206.4 250.6L204.8 242.2L218.7 240.4L219.4 248.9Z"/>
<path fill="#94c6e1" d="M270.1 379.8L278.6 379.0L278.8 383.8L270.2 383.7ZM200.2 409.2L193.7 414.7L190.8 411.0L197.8 406.1ZM198.1 406.5L191.1 411.4L188.6 407.4L196.0 403.2ZM196.2 403.5L188.8 407.9L186.6 403.7L194.4 400.1ZM242.6 337.4L244.8 329.1L250.0 330.8L247.0 338.8ZM246.6 338.6L249.4 330.6L254.5 332.7L250.9 340.4ZM194.1 414.3L187.6 419.9L184.3 415.5L191.3 410.6ZM183.5 375.5L175.1 374.0L176.3 368.7L184.5 370.9ZM184.4 371.4L176.1 369.2L177.8 364.0L185.8 367.0ZM244.6 329.7L246.8 321.4L252.8 323.3L249.8 331.3ZM249.2 331.1L252.1 323.1L257.9 325.5L254.3 333.2ZM175.1 378.9L166.6 378.2L167.4 372.0L175.8 373.6ZM178.1 364.8L170.1 361.9L172.5 356.1L180.2 359.7ZM241.9 446.0L243.4 454.4L236.4 455.4L235.7 446.8ZM301.8 389.4L310.3 390.1L309.3 397.8L300.8 396.3ZM195.1 445.6L190.8 453.0L184.2 448.8L189.2 441.9ZM189.8 442.3L184.9 449.3L178.7 444.5L184.3 438.0ZM160.0 371.5L151.6 370.0L153.3 362.4L161.5 364.6ZM161.3 365.4L153.1 363.2L155.4 355.7L163.4 358.7ZM163.2 359.4L155.1 356.5L158.1 349.3L165.9 352.9ZM191.1 452.5L186.9 459.9L179.7 455.3L184.6 448.3ZM297.1 327.0L303.7 321.5L309.4 328.9L302.3 333.8ZM254.7 291.3L256.9 283.0L266.5 286.1L263.6 294.1ZM303.2 321.8L309.7 316.3L315.9 324.4L308.9 329.2ZM325.4 374.7L333.9 373.9L334.4 384.0L325.8 384.0ZM325.8 383.0L334.4 383.0L333.9 393.1L325.4 392.3ZM138.5 408.7L130.3 410.9L128.1 401.0L136.5 399.6ZM213.5 289.7L211.9 281.3L222.0 280.0L222.7 288.5ZM309.3 316.7L315.8 311.2L322.4 319.8L315.4 324.7ZM130.9 410.8L122.6 413.0L120.3 402.3L128.7 400.9ZM258.7 275.9L260.9 267.7L272.1 271.2L269.1 279.2ZM315.3 311.6L321.8 306.0L329.0 315.3L321.9 320.2ZM341.7 382.9L350.3 382.9L349.8 394.6L341.2 393.8ZM210.6 274.1L209.1 265.7L220.7 264.1L221.4 272.7ZM260.7 268.2L262.9 260.0L274.8 263.7L271.8 271.7ZM321.4 306.4L327.9 300.9L335.5 310.8L328.5 315.7ZM349.7 382.9L358.2 382.8L357.7 395.3L349.2 394.5ZM209.2 266.3L207.7 257.8L220.0 256.2L220.7 264.7ZM357.1 371.8L365.6 371.0L366.2 384.2L357.6 384.2ZM357.6 382.8L366.2 382.8L365.6 396.0L357.1 395.2ZM207.8 258.4L206.2 250.0L219.4 248.3L220.1 256.8ZM333.5 296.1L340.0 290.6L348.6 301.8L341.5 306.6ZM365.0 371.0L373.5 370.2L374.1 384.3L365.6 384.2ZM365.6 382.8L374.1 382.7L373.5 396.8L365.0 396.0ZM100.2 419.1L92.0 421.4L89.0 407.7L97.4 406.3Z"/>
<path fill="#b4d9eb" d="M175.7 374.1L167.3 372.7L168.6 366.6L176.9 368.8ZM176.7 369.4L168.4 367.2L170.3 361.2L178.3 364.2ZM167.9 372.8L159.4 371.4L161.0 364.5L169.2 366.7ZM170.7 362.1L162.6 359.2L165.3 352.7L173.0 356.3ZM291.1 332.1L297.6 326.6L302.8 333.4L295.8 338.3ZM301.8 333.0L308.8 328.1L313.8 336.0L306.4 340.2ZM308.3 328.4L315.3 323.5L320.7 332.0L313.3 336.3ZM321.3 319.2L328.2 314.3L334.5 324.2L327.1 328.4ZM341.2 373.2L349.8 372.4L350.3 384.1L341.7 384.1ZM123.2 412.8L115.0 415.1L112.4 403.7L120.9 402.2ZM115.6 414.9L107.3 417.2L104.6 405.0L113.0 403.6ZM327.4 301.3L334.0 295.8L342.0 306.3L335.0 311.1ZM334.2 310.0L341.2 305.1L348.3 316.3L340.9 320.5ZM107.9 417.0L99.7 419.3L96.8 406.4L105.2 404.9ZM340.7 305.5L347.7 300.5L355.2 312.4L347.8 316.6Z"/>
<path fill="#d3ecf5" d="M169.0 367.4L160.8 365.2L162.9 358.5L170.9 361.5ZM295.3 337.6L302.3 332.7L306.9 339.9L299.5 344.1ZM314.8 323.8L321.8 318.9L327.6 328.1L320.2 332.3ZM327.8 314.6L334.7 309.7L341.4 320.2L334.0 324.5Z"/>
</g>
<circle cx="230.5" cy="383.5" r="48" fill="none" stroke="#fbf7b5" stroke-width="1.15" shape-rendering="crispEdges"/>
<circle cx="230.5" cy="383.5" r="96" fill="none" stroke="#fbf7b5" stroke-width="1.15" shape-rendering="crispEdges"/>
<circle cx="230.5" cy="383.5" r="143.0" fill="none" stroke="#fbf7b5" stroke-width="1.15" shape-rendering="crispEdges"/>
<path d="M129.4 282.4L331.6 484.6M129.4 484.6L331.6 282.4" stroke="#fbf7b5" stroke-width="1.1" fill="none" shape-rendering="crispEdges"/>
</g>
<path d="M87.5 383.5H373.5M230.5 244.5V522.5" stroke="#fbf7b5" stroke-width="1" fill="none" shape-rendering="crispEdges"/>
<line x1="230.5" y1="383.5" x2="310" y2="331" stroke="#ffa500" stroke-width="1" shape-rendering="crispEdges"/>
<path d="M311.2 306.0L314.1 307.3L315.6 310.4L317.2 312.5L318.0 315.6L318.0 320.8L316.1 324.0L318.8 326.0L320.1 328.4L317.7 331.2L316.7 335.4L315.1 337.5L314.1 339.1L310.4 338.8L309.4 336.5L310.2 332.3L307.8 327.1L307.0 324.5L308.3 321.9L307.3 318.8L306.2 317.2L307.3 314.1L307.0 310.9L308.3 307.8Z" fill="#ffa500" shape-rendering="crispEdges"/>
</g>
<g id="waterfall">
<defs><linearGradient id="wfg" gradientUnits="userSpaceOnUse" x1="700" y1="318" x2="680.7" y2="466.7">
<stop offset="0" stop-color="#f8f4de"/><stop offset="0.30" stop-color="#f5f3e2"/><stop offset="0.37" stop-color="#e8f2f2"/>
<stop offset="0.43" stop-color="#dfeff6"/><stop offset="0.52" stop-color="#c6e0f0"/><stop offset="0.60" stop-color="#b0d3ea"/>
<stop offset="0.70" stop-color="#94bfde"/><stop offset="0.80" stop-color="#7eaed6"/><stop offset="0.92" stop-color="#6c9ecd"/><stop offset="1" stop-color="#6598c9"/></linearGradient>
<linearGradient id="wft" gradientUnits="userSpaceOnUse" x1="880" y1="371" x2="880" y2="408">
<stop offset="0" stop-color="#a9cfe8" stop-opacity="0"/><stop offset="0.17" stop-color="#a3cae6" stop-opacity="0.9"/><stop offset="0.34" stop-color="#7eaed7"/><stop offset="1" stop-color="#5c90c6"/></linearGradient>
<linearGradient id="wfpale" gradientUnits="userSpaceOnUse" x1="795" y1="0" x2="848" y2="0">
<stop offset="0" stop-color="#dcedf5" stop-opacity="0"/><stop offset="1" stop-color="#d9ecf5" stop-opacity="1"/></linearGradient>
<linearGradient id="wfpaleL" gradientUnits="userSpaceOnUse" x1="0" y1="330" x2="0" y2="408">
<stop offset="0" stop-color="#dcedf5" stop-opacity="0.8"/><stop offset="0.6" stop-color="#dcedf5" stop-opacity="0.5"/><stop offset="1" stop-color="#dcedf5" stop-opacity="0"/></linearGradient></defs>
<line class="ax" x1="511.5" y1="461.5" x2="664.7" y2="381.8"/>
<line class="ax" x1="664.7" y1="381.8" x2="933.4" y2="427.8"/>
<line class="ax" x1="533.5" y1="450.2" x2="538.4" y2="451.0"/>
<line class="ax" x1="555.4" y1="438.9" x2="560.3" y2="439.7"/>
<line class="ax" x1="577.4" y1="427.6" x2="582.3" y2="428.4"/>
<line class="ax" x1="599.3" y1="416.2" x2="604.3" y2="417.1"/>
<line class="ax" x1="621.3" y1="404.9" x2="626.2" y2="405.8"/>
<line class="ax" x1="643.2" y1="393.6" x2="648.2" y2="394.5"/>
<line class="ax" x1="698.2" y1="387.5" x2="695.6" y2="388.9"/>
<line class="ax" x1="731.8" y1="393.2" x2="727.3" y2="395.5"/>
<line class="ax" x1="765.3" y1="398.9" x2="762.6" y2="400.2"/>
<line class="ax" x1="798.8" y1="404.6" x2="794.4" y2="406.8"/>
<line class="ax" x1="832.3" y1="410.2" x2="829.7" y2="411.6"/>
<line class="ax" x1="865.9" y1="415.9" x2="861.4" y2="418.2"/>
<line class="ax" x1="899.4" y1="421.6" x2="896.7" y2="423.0"/>
<defs><clipPath id="wfclip"><path d="M553.5 419.7 L555.6 417.1 L556.9 417.5 L558.2 414.8 L559.5 415.1 L560.8 411.3 L562.1 407.2 L563.4 407.2 L564.7 404.5 L566.0 404.4 L567.6 402.0 L569.2 400.8 L570.7 400.5 L572.6 392.5 L573.9 377.4 L575.2 373.4 L576.5 370.2 L577.8 366.9 L579.1 363.1 L580.4 360.0 L581.7 359.1 L583.0 353.3 L584.3 352.7 L585.6 348.0 L586.9 346.2 L588.2 344.8 L589.5 344.1 L590.8 344.3 L592.1 341.8 L593.4 342.3 L594.7 341.8 L596.0 340.4 L597.3 340.0 L598.6 337.7 L599.9 336.8 L601.2 336.4 L602.5 336.9 L603.8 335.5 L605.1 334.4 L606.4 334.6 L607.7 333.5 L609.0 332.4 L610.3 333.1 L611.6 332.0 L612.9 329.9 L614.2 330.1 L615.5 329.1 L616.8 329.5 L618.1 328.4 L619.4 326.5 L620.7 327.9 L622.0 324.7 L623.3 324.9 L624.6 325.4 L625.9 323.0 L627.2 323.4 L628.5 321.5 L629.8 322.8 L631.1 322.6 L632.4 321.6 L633.8 322.0 L635.1 319.9 L636.4 320.6 L637.7 319.9 L639.0 319.4 L640.3 318.6 L641.6 319.3 L642.9 319.1 L644.2 317.3 L645.5 314.8 L646.8 310.0 L648.1 312.7 L649.4 313.2 L650.7 314.9 L652.0 313.8 L653.3 311.5 L654.6 311.1 L655.9 311.3 L657.2 308.5 L658.5 309.0 L659.8 307.2 L661.1 307.0 L662.4 306.7 L663.7 308.8 L665.0 306.8 L666.3 307.0 L667.6 307.4 L668.9 309.0 L670.2 306.8 L671.5 308.1 L672.8 308.6 L674.1 309.7 L675.4 309.7 L676.7 310.0 L678.0 308.4 L679.3 309.0 L680.6 309.0 L681.9 310.7 L683.2 311.2 L684.5 309.1 L685.8 309.5 L687.1 309.9 L688.4 310.3 L689.7 311.3 L691.0 312.3 L692.3 312.0 L693.6 311.9 L694.9 313.8 L696.2 314.3 L697.6 316.9 L698.9 320.0 L700.2 318.6 L701.5 317.4 L702.8 317.0 L704.1 316.6 L705.4 314.6 L706.7 317.1 L708.0 316.6 L709.3 316.8 L710.6 316.5 L711.9 315.2 L713.2 315.3 L714.5 314.5 L715.8 316.2 L717.1 314.6 L718.4 314.7 L719.7 315.2 L721.0 314.8 L722.3 315.1 L723.6 314.0 L724.9 313.7 L726.2 313.9 L727.5 313.5 L728.8 315.1 L730.1 314.9 L731.4 318.2 L732.7 318.2 L734.0 317.6 L732.2 315.9 L730.4 314.3 L731.7 316.9 L733.0 318.8 L734.3 321.1 L735.6 321.6 L736.9 320.1 L738.2 320.3 L739.5 319.2 L740.8 319.3 L742.1 320.2 L743.4 320.0 L744.7 322.3 L746.0 320.8 L747.3 321.0 L748.6 324.3 L749.9 323.6 L751.2 323.0 L752.6 324.7 L753.9 323.7 L755.2 324.8 L756.5 325.7 L757.8 325.0 L759.1 324.1 L760.4 322.3 L761.7 322.2 L763.0 321.2 L764.3 322.6 L765.6 322.8 L766.9 324.4 L768.2 324.0 L769.5 324.6 L770.8 327.3 L772.1 328.7 L773.4 329.2 L774.7 330.0 L776.0 329.9 L777.3 329.5 L778.6 327.8 L779.9 328.5 L781.2 327.8 L782.5 326.7 L783.8 326.5 L785.1 327.1 L786.4 328.0 L787.7 330.3 L789.0 332.1 L790.3 331.5 L791.6 332.5 L792.9 332.3 L794.2 331.7 L795.5 329.5 L796.8 328.7 L798.1 328.2 L799.4 328.7 L800.7 329.3 L802.0 331.2 L803.3 332.6 L804.6 333.0 L805.9 332.5 L807.2 333.6 L808.5 334.6 L809.8 332.2 L811.1 333.6 L812.4 334.0 L813.8 333.3 L815.1 332.9 L816.4 331.7 L817.7 330.5 L819.0 332.0 L820.3 331.4 L821.6 333.5 L822.9 334.8 L824.2 333.8 L825.5 334.5 L826.8 336.9 L828.1 336.8 L829.4 335.7 L830.7 336.1 L832.0 336.8 L833.3 339.6 L834.6 339.9 L835.9 337.8 L837.2 339.7 L838.5 340.0 L839.8 338.9 L841.1 337.9 L842.4 338.3 L843.7 337.7 L845.0 338.0 L846.3 341.5 L847.6 341.2 L848.9 341.5 L850.2 343.4 L851.5 343.5 L852.8 346.5 L854.1 347.9 L855.4 347.7 L856.7 349.8 L858.0 351.9 L859.3 353.7 L860.6 356.7 L861.9 356.0 L863.2 356.8 L864.5 356.2 L865.8 358.9 L867.1 357.5 L868.4 358.1 L869.7 358.8 L871.0 360.1 L872.3 359.0 L873.6 360.9 L874.9 360.0 L876.2 360.4 L877.6 360.2 L878.9 358.4 L880.2 359.5 L881.5 358.5 L882.8 357.7 L884.1 359.9 L885.4 359.3 L886.7 361.5 L888.0 363.6 L889.3 364.4 L890.6 367.6 L891.9 372.1 L893.2 376.1 L894.5 388.5 L895.8 386.6 L897.1 388.1 L898.4 387.3 L899.7 387.5 L901.0 389.1 L902.3 388.5 L903.7 388.9 L905.0 389.7 L906.4 390.4 L907.8 389.2 L909.1 389.9 L910.5 389.8 L911.9 390.1 L913.2 390.3 L913.2 399.4 L911.8 402.1 L910.4 400.9 L908.9 401.9 L907.5 405.1 L906.2 403.8 L904.9 402.1 L903.6 405.5 L902.3 406.3 L901.0 404.3 L899.7 401.3 L898.4 402.7 L897.1 401.0 L895.8 401.7 L894.5 406.4 L893.2 402.0 L891.9 401.5 L890.6 401.0 L889.3 400.8 L888.0 403.8 L886.7 399.5 L885.4 402.9 L884.1 400.8 L882.8 401.6 L881.5 403.4 L880.2 400.9 L878.9 402.8 L877.6 404.9 L876.2 404.8 L874.9 407.5 L873.6 407.3 L872.3 407.4 L871.0 402.3 L869.7 403.0 L868.4 403.0 L867.1 406.1 L865.8 403.0 L864.5 403.1 L863.2 399.2 L861.9 385.8 L860.6 387.4 L859.3 390.6 L858.0 391.4 L856.7 389.6 L855.4 386.6 L854.1 388.7 L852.8 391.6 L851.5 387.4 L850.2 388.0 L848.9 389.5 L847.6 394.1 L846.3 393.3 L845.0 392.7 L843.7 397.6 L842.4 393.9 L841.1 394.4 L839.8 393.9 L838.5 396.8 L837.2 397.6 L835.9 400.0 L834.6 406.5 L833.3 400.2 L832.0 394.6 L830.7 399.1 L829.4 398.8 L828.1 400.6 L826.8 404.4 L825.5 406.2 L824.2 405.9 L822.9 406.2 L821.6 404.2 L820.3 406.1 L819.0 403.2 L817.7 407.1 L816.4 407.0 L815.1 404.4 L813.8 406.7 L812.4 407.5 L811.1 410.8 L809.8 408.9 L808.5 411.0 L807.2 412.3 L805.9 409.5 L804.6 414.0 L803.3 417.8 L802.0 414.7 L800.7 417.1 L799.4 424.7 L798.1 429.3 L796.8 434.7 L795.5 462.8 L794.2 456.7 L792.9 457.7 L791.6 458.8 L790.3 464.1 L789.0 464.5 L787.7 463.9 L786.4 465.4 L785.1 465.4 L783.8 466.6 L782.5 468.5 L781.2 472.8 L779.9 468.5 L778.6 469.4 L777.3 467.1 L776.0 469.9 L774.7 466.3 L773.4 466.1 L772.1 468.5 L770.8 472.1 L769.5 467.3 L768.2 470.0 L766.9 467.4 L765.6 468.9 L764.3 469.4 L763.0 469.6 L761.7 468.5 L760.4 467.9 L759.1 466.9 L757.8 465.6 L756.5 467.0 L755.2 469.0 L753.9 470.0 L752.6 470.2 L751.2 466.5 L749.9 466.8 L748.6 463.4 L747.3 460.0 L746.0 459.1 L744.7 457.3 L743.4 449.3 L742.1 447.6 L740.8 447.2 L739.5 449.0 L738.2 449.3 L736.9 449.7 L735.6 449.1 L734.3 448.8 L733.0 448.9 L731.7 447.1 L730.4 446.1 L729.1 445.8 L727.8 447.2 L726.5 450.6 L725.2 446.9 L726.6 446.5 L727.9 446.1 L729.2 448.2 L730.6 445.8 L731.9 447.3 L733.3 445.9 L734.6 449.1 L736.0 451.3 L737.3 446.1 L738.7 447.7 L740.0 446.8 L738.6 446.6 L737.2 448.5 L735.8 446.9 L734.4 446.1 L733.1 445.7 L731.7 448.1 L730.3 447.4 L728.9 445.7 L727.5 447.7 L726.2 448.2 L724.9 446.8 L723.6 446.4 L722.3 445.4 L721.0 441.3 L719.7 440.2 L718.4 441.7 L717.1 441.6 L715.8 444.4 L714.5 445.8 L713.2 447.6 L711.9 451.4 L710.6 458.3 L709.3 452.1 L708.0 454.6 L706.7 457.4 L705.4 456.0 L704.1 455.3 L702.8 459.6 L701.5 454.1 L700.2 452.4 L698.9 438.3 L697.6 434.0 L696.2 429.5 L694.9 430.9 L693.6 432.9 L692.3 436.0 L691.0 431.5 L689.7 431.7 L688.4 433.3 L687.1 432.9 L685.8 434.8 L684.5 433.3 L683.2 435.1 L681.9 435.8 L680.6 434.6 L679.3 436.0 L678.0 436.6 L676.7 433.6 L675.4 434.3 L674.1 434.9 L672.8 431.5 L671.5 430.2 L670.2 432.7 L668.9 434.2 L667.6 438.1 L666.3 436.3 L665.0 437.4 L663.7 444.9 L662.4 445.8 L661.1 444.4 L659.8 441.4 L658.5 444.0 L657.2 444.5 L655.9 444.8 L654.6 445.9 L653.3 445.2 L652.0 446.7 L650.7 438.7 L649.4 437.1 L648.1 437.0 L646.8 433.9 L645.5 434.2 L644.2 433.9 L642.9 435.4 L641.6 431.9 L640.3 429.3 L639.0 427.8 L637.7 426.6 L636.4 425.5 L635.1 427.5 L633.8 428.0 L632.4 431.7 L631.1 429.7 L629.8 432.8 L628.5 430.2 L627.2 432.3 L625.9 433.3 L624.6 432.0 L623.3 431.5 L622.0 433.9 L620.7 435.1 L619.4 433.3 L618.1 431.3 L616.8 426.7 L615.5 428.3 L614.2 427.0 L612.9 432.9 L611.6 430.1 L610.3 426.1 L609.0 426.4 L607.7 427.4 L606.4 428.2 L605.1 428.5 L603.8 429.3 L602.5 429.7 L601.2 431.7 L599.9 430.8 L598.6 431.7 L597.3 431.5 L596.0 432.9 L594.7 434.2 L593.4 436.7 L592.1 433.4 L590.8 429.9 L589.5 430.5 L588.2 426.7 L586.9 423.8 L585.6 421.6 L584.3 422.5 L583.0 425.9 L581.7 423.7 L580.1 429.2 L578.5 433.2 L576.8 432.1 L575.2 424.2 L573.9 421.6 L572.6 416.3 L571.2 420.1 L569.9 418.2 L568.6 425.3 L567.3 424.3 L566.0 425.0 L564.7 422.2 L563.4 421.4 L562.1 424.7 L560.8 427.2 L559.5 428.4 L558.2 434.7 L556.7 431.1 L555.1 425.5 L553.5 421.0Z"/></clipPath></defs>
<g clip-path="url(#wfclip)" shape-rendering="crispEdges">
<rect x="540" y="290" width="390" height="200" fill="url(#wfg)"/>
<rect x="790" y="300" width="135" height="100" fill="url(#wfpale)"/>
<path d="M570 408L574 380L579 355L586 340L596 331L610 327L604 336L596 346L590 362L586 384L584 408Z" fill="url(#wfpaleL)"/>
<rect x="862" y="370" width="60" height="55" fill="url(#wft)"/>
<rect x="621" y="305" width="1" height="86" fill="#ffffff" opacity="0.07"/>
<rect x="609" y="305" width="1" height="62" fill="#4f86c0" opacity="0.03"/>
<rect x="854" y="347" width="1" height="55" fill="#4f86c0" opacity="0.07"/>
<rect x="787" y="370" width="2" height="53" fill="#4f86c0" opacity="0.05"/>
<rect x="712" y="300" width="1" height="89" fill="#ffffff" opacity="0.07"/>
<rect x="776" y="400" width="2" height="78" fill="#ffffff" opacity="0.04"/>
<rect x="684" y="311" width="2" height="54" fill="#4f86c0" opacity="0.03"/>
<rect x="783" y="411" width="1" height="45" fill="#4f86c0" opacity="0.03"/>
<rect x="824" y="378" width="2" height="76" fill="#ffffff" opacity="0.04"/>
<rect x="775" y="323" width="1" height="89" fill="#ffffff" opacity="0.11"/>
<rect x="882" y="382" width="1" height="72" fill="#ffffff" opacity="0.10"/>
<rect x="773" y="319" width="2" height="83" fill="#ffffff" opacity="0.10"/>
<rect x="607" y="416" width="3" height="56" fill="#4f86c0" opacity="0.06"/>
<rect x="641" y="304" width="2" height="37" fill="#ffffff" opacity="0.11"/>
<rect x="798" y="320" width="2" height="76" fill="#ffffff" opacity="0.08"/>
<rect x="783" y="416" width="2" height="54" fill="#4f86c0" opacity="0.06"/>
<rect x="875" y="419" width="2" height="66" fill="#ffffff" opacity="0.10"/>
<rect x="650" y="369" width="2" height="48" fill="#4f86c0" opacity="0.05"/>
<rect x="619" y="336" width="1" height="59" fill="#ffffff" opacity="0.11"/>
<rect x="866" y="388" width="2" height="74" fill="#ffffff" opacity="0.06"/>
<rect x="779" y="362" width="2" height="83" fill="#ffffff" opacity="0.06"/>
<rect x="789" y="307" width="1" height="62" fill="#ffffff" opacity="0.08"/>
<rect x="746" y="370" width="2" height="63" fill="#ffffff" opacity="0.08"/>
<rect x="725" y="302" width="1" height="77" fill="#4f86c0" opacity="0.05"/>
<rect x="579" y="405" width="1" height="76" fill="#ffffff" opacity="0.06"/>
<rect x="560" y="407" width="3" height="64" fill="#4f86c0" opacity="0.06"/>
<rect x="740" y="330" width="2" height="84" fill="#ffffff" opacity="0.08"/>
<rect x="701" y="319" width="1" height="84" fill="#ffffff" opacity="0.08"/>
<rect x="790" y="317" width="1" height="38" fill="#4f86c0" opacity="0.06"/>
<rect x="784" y="321" width="3" height="45" fill="#ffffff" opacity="0.04"/>
<rect x="873" y="386" width="2" height="25" fill="#4f86c0" opacity="0.07"/>
<rect x="722" y="321" width="2" height="90" fill="#ffffff" opacity="0.09"/>
<rect x="600" y="385" width="2" height="42" fill="#4f86c0" opacity="0.05"/>
<rect x="837" y="417" width="3" height="44" fill="#4f86c0" opacity="0.07"/>
<rect x="586" y="302" width="3" height="42" fill="#ffffff" opacity="0.09"/>
<rect x="892" y="323" width="2" height="50" fill="#4f86c0" opacity="0.05"/>
<rect x="859" y="356" width="3" height="80" fill="#4f86c0" opacity="0.07"/>
<rect x="712" y="368" width="1" height="45" fill="#ffffff" opacity="0.08"/>
<rect x="584" y="317" width="1" height="27" fill="#ffffff" opacity="0.11"/>
<rect x="679" y="384" width="1" height="27" fill="#ffffff" opacity="0.09"/>
<rect x="571" y="388" width="1" height="29" fill="#4f86c0" opacity="0.05"/>
<rect x="847" y="407" width="3" height="29" fill="#4f86c0" opacity="0.08"/>
<rect x="892" y="330" width="1" height="38" fill="#ffffff" opacity="0.11"/>
<rect x="880" y="399" width="1" height="66" fill="#ffffff" opacity="0.05"/>
<rect x="591" y="335" width="1" height="47" fill="#ffffff" opacity="0.06"/>
<rect x="887" y="386" width="1" height="49" fill="#ffffff" opacity="0.11"/>
<rect x="735" y="374" width="2" height="27" fill="#ffffff" opacity="0.07"/>
<rect x="831" y="356" width="2" height="28" fill="#4f86c0" opacity="0.07"/>
<rect x="851" y="398" width="3" height="36" fill="#ffffff" opacity="0.05"/>
<rect x="827" y="301" width="1" height="57" fill="#ffffff" opacity="0.10"/>
<rect x="622" y="371" width="2" height="87" fill="#4f86c0" opacity="0.06"/>
<rect x="613" y="413" width="1" height="40" fill="#ffffff" opacity="0.11"/>
<rect x="829" y="395" width="2" height="70" fill="#4f86c0" opacity="0.06"/>
<rect x="683" y="411" width="2" height="83" fill="#4f86c0" opacity="0.05"/>
<rect x="786" y="325" width="2" height="42" fill="#4f86c0" opacity="0.06"/>
<rect x="691" y="413" width="1" height="33" fill="#4f86c0" opacity="0.06"/>
<rect x="772" y="342" width="1" height="46" fill="#ffffff" opacity="0.10"/>
<rect x="792" y="320" width="2" height="54" fill="#4f86c0" opacity="0.06"/>
<rect x="601" y="377" width="2" height="70" fill="#4f86c0" opacity="0.04"/>
<rect x="825" y="319" width="3" height="35" fill="#ffffff" opacity="0.06"/>
<rect x="742" y="328" width="1" height="87" fill="#ffffff" opacity="0.11"/>
<rect x="910" y="415" width="1" height="32" fill="#ffffff" opacity="0.11"/>
<rect x="839" y="352" width="2" height="38" fill="#4f86c0" opacity="0.04"/>
<rect x="629" y="356" width="2" height="26" fill="#4f86c0" opacity="0.05"/>
<rect x="635" y="356" width="2" height="34" fill="#4f86c0" opacity="0.05"/>
<rect x="820" y="384" width="2" height="63" fill="#4f86c0" opacity="0.07"/>
<rect x="794" y="402" width="3" height="69" fill="#4f86c0" opacity="0.05"/>
<rect x="667" y="407" width="1" height="41" fill="#ffffff" opacity="0.09"/>
<rect x="612" y="358" width="2" height="26" fill="#4f86c0" opacity="0.06"/>
<rect x="791" y="407" width="1" height="46" fill="#ffffff" opacity="0.10"/>
<rect x="879" y="305" width="1" height="60" fill="#ffffff" opacity="0.09"/>
<rect x="891" y="342" width="3" height="80" fill="#ffffff" opacity="0.05"/>
<rect x="725" y="377" width="1" height="79" fill="#4f86c0" opacity="0.05"/>
<rect x="893" y="419" width="1" height="37" fill="#4f86c0" opacity="0.08"/>
<rect x="816" y="343" width="3" height="29" fill="#ffffff" opacity="0.07"/>
<rect x="561" y="410" width="2" height="66" fill="#4f86c0" opacity="0.06"/>
<rect x="595" y="389" width="2" height="86" fill="#4f86c0" opacity="0.04"/>
<rect x="841" y="355" width="2" height="36" fill="#4f86c0" opacity="0.03"/>
<rect x="840" y="356" width="1" height="62" fill="#ffffff" opacity="0.11"/>
<rect x="682" y="356" width="2" height="44" fill="#4f86c0" opacity="0.04"/>
<rect x="853" y="394" width="2" height="40" fill="#4f86c0" opacity="0.06"/>
<rect x="906" y="358" width="1" height="77" fill="#4f86c0" opacity="0.05"/>
<rect x="789" y="358" width="2" height="53" fill="#4f86c0" opacity="0.06"/>
<rect x="685" y="403" width="2" height="29" fill="#4f86c0" opacity="0.08"/>
<rect x="835" y="364" width="1" height="47" fill="#4f86c0" opacity="0.06"/>
<rect x="631" y="379" width="1" height="41" fill="#ffffff" opacity="0.05"/>
<rect x="639" y="342" width="2" height="35" fill="#4f86c0" opacity="0.07"/>
<rect x="616" y="417" width="3" height="31" fill="#4f86c0" opacity="0.06"/>
<rect x="783" y="324" width="2" height="70" fill="#4f86c0" opacity="0.07"/>
<rect x="712" y="367" width="1" height="42" fill="#ffffff" opacity="0.05"/>
<rect x="732" y="358" width="1" height="84" fill="#4f86c0" opacity="0.04"/>
<rect x="615" y="404" width="3" height="25" fill="#4f86c0" opacity="0.05"/>
<rect x="756" y="401" width="2" height="49" fill="#ffffff" opacity="0.11"/>
<rect x="583" y="376" width="2" height="27" fill="#4f86c0" opacity="0.06"/>
<rect x="888" y="397" width="2" height="31" fill="#ffffff" opacity="0.09"/>
<rect x="607" y="386" width="1" height="66" fill="#ffffff" opacity="0.10"/>
<rect x="686" y="393" width="2" height="61" fill="#4f86c0" opacity="0.04"/>
<rect x="678" y="366" width="2" height="79" fill="#ffffff" opacity="0.10"/>
<rect x="700" y="418" width="3" height="82" fill="#ffffff" opacity="0.05"/>
<rect x="731" y="340" width="1" height="46" fill="#ffffff" opacity="0.08"/>
<rect x="782" y="348" width="1" height="61" fill="#ffffff" opacity="0.08"/>
<rect x="698" y="301" width="1" height="37" fill="#4f86c0" opacity="0.06"/>
<rect x="790" y="409" width="3" height="65" fill="#4f86c0" opacity="0.06"/>
<rect x="804" y="405" width="3" height="30" fill="#ffffff" opacity="0.08"/>
<rect x="779" y="312" width="1" height="37" fill="#ffffff" opacity="0.09"/>
<rect x="881" y="344" width="1" height="78" fill="#4f86c0" opacity="0.06"/>
<rect x="648" y="322" width="2" height="27" fill="#ffffff" opacity="0.08"/>
<rect x="762" y="360" width="1" height="59" fill="#4f86c0" opacity="0.07"/>
<rect x="706" y="354" width="2" height="26" fill="#ffffff" opacity="0.08"/>
<rect x="890" y="357" width="1" height="52" fill="#ffffff" opacity="0.09"/>
<rect x="632" y="375" width="1" height="53" fill="#ffffff" opacity="0.09"/>
<rect x="907" y="326" width="1" height="33" fill="#ffffff" opacity="0.06"/>
<rect x="759" y="388" width="2" height="37" fill="#ffffff" opacity="0.09"/>
<rect x="810" y="388" width="1" height="30" fill="#4f86c0" opacity="0.07"/>
<rect x="720" y="410" width="2" height="28" fill="#ffffff" opacity="0.04"/>
<rect x="870" y="310" width="3" height="45" fill="#4f86c0" opacity="0.04"/>
<rect x="863" y="373" width="2" height="46" fill="#4f86c0" opacity="0.07"/>
<rect x="723" y="317" width="1" height="77" fill="#ffffff" opacity="0.09"/>
<rect x="780" y="357" width="2" height="76" fill="#ffffff" opacity="0.06"/>
<rect x="825" y="335" width="2" height="29" fill="#4f86c0" opacity="0.07"/>
<rect x="851" y="404" width="2" height="72" fill="#ffffff" opacity="0.05"/>
<rect x="852" y="351" width="3" height="83" fill="#ffffff" opacity="0.09"/>
<rect x="770" y="397" width="1" height="43" fill="#ffffff" opacity="0.06"/>
<rect x="706" y="410" width="3" height="75" fill="#4f86c0" opacity="0.04"/>
<rect x="606" y="318" width="3" height="88" fill="#4f86c0" opacity="0.06"/>
<rect x="833" y="342" width="2" height="31" fill="#4f86c0" opacity="0.07"/>
<rect x="627" y="337" width="1" height="29" fill="#ffffff" opacity="0.09"/>
<rect x="886" y="390" width="3" height="76" fill="#ffffff" opacity="0.05"/>
<rect x="843" y="328" width="1" height="63" fill="#4f86c0" opacity="0.07"/>
<rect x="742" y="361" width="2" height="38" fill="#ffffff" opacity="0.05"/>
<rect x="843" y="344" width="2" height="62" fill="#ffffff" opacity="0.08"/>
<rect x="609" y="411" width="1" height="57" fill="#4f86c0" opacity="0.05"/>
<rect x="721" y="319" width="1" height="64" fill="#ffffff" opacity="0.08"/>
<rect x="563" y="325" width="1" height="82" fill="#4f86c0" opacity="0.06"/>
<rect x="632" y="351" width="2" height="87" fill="#4f86c0" opacity="0.07"/>
<rect x="899" y="401" width="2" height="47" fill="#4f86c0" opacity="0.05"/>
<rect x="566" y="367" width="1" height="82" fill="#ffffff" opacity="0.11"/>
<rect x="880" y="404" width="1" height="67" fill="#4f86c0" opacity="0.07"/>
<rect x="588" y="368" width="2" height="67" fill="#4f86c0" opacity="0.06"/>
<rect x="696" y="402" width="2" height="49" fill="#ffffff" opacity="0.09"/>
<rect x="617" y="413" width="2" height="29" fill="#4f86c0" opacity="0.03"/>
<rect x="883" y="394" width="2" height="71" fill="#4f86c0" opacity="0.08"/>
<rect x="576" y="338" width="1" height="25" fill="#ffffff" opacity="0.09"/>
<rect x="766" y="391" width="2" height="32" fill="#ffffff" opacity="0.06"/>
<rect x="600" y="346" width="2" height="54" fill="#4f86c0" opacity="0.08"/>
<rect x="874" y="386" width="2" height="38" fill="#ffffff" opacity="0.10"/>
<rect x="635" y="404" width="3" height="83" fill="#ffffff" opacity="0.07"/>
<rect x="591" y="401" width="2" height="66" fill="#ffffff" opacity="0.06"/>
<rect x="849" y="314" width="2" height="49" fill="#ffffff" opacity="0.09"/>
<rect x="620" y="366" width="2" height="34" fill="#4f86c0" opacity="0.04"/>
<rect x="703" y="303" width="1" height="62" fill="#ffffff" opacity="0.10"/>
<rect x="649" y="338" width="1" height="84" fill="#ffffff" opacity="0.11"/>
<rect x="576" y="367" width="1" height="79" fill="#ffffff" opacity="0.09"/>
<rect x="902" y="419" width="2" height="90" fill="#4f86c0" opacity="0.03"/>
<rect x="659" y="307" width="1" height="72" fill="#ffffff" opacity="0.11"/>
<rect x="562" y="341" width="3" height="34" fill="#ffffff" opacity="0.10"/>
<rect x="743" y="343" width="1" height="28" fill="#ffffff" opacity="0.06"/>
<rect x="620" y="363" width="1" height="40" fill="#ffffff" opacity="0.08"/>
<rect x="851" y="388" width="3" height="74" fill="#ffffff" opacity="0.05"/>
<rect x="794" y="370" width="1" height="38" fill="#ffffff" opacity="0.09"/>
<rect x="701" y="362" width="1" height="48" fill="#ffffff" opacity="0.08"/>
<rect x="893" y="302" width="1" height="84" fill="#ffffff" opacity="0.10"/>
<rect x="651" y="368" width="1" height="89" fill="#ffffff" opacity="0.09"/>
<rect x="761" y="343" width="1" height="86" fill="#4f86c0" opacity="0.03"/>
<rect x="683" y="398" width="1" height="81" fill="#ffffff" opacity="0.09"/>
<rect x="692" y="335" width="1" height="32" fill="#4f86c0" opacity="0.05"/>
<rect x="565" y="316" width="3" height="41" fill="#ffffff" opacity="0.08"/>
<rect x="616" y="330" width="2" height="78" fill="#ffffff" opacity="0.05"/>
<rect x="805" y="331" width="1" height="79" fill="#4f86c0" opacity="0.05"/>
<rect x="641" y="312" width="2" height="82" fill="#4f86c0" opacity="0.03"/>
</g>
<line class="ax" x1="511.5" y1="461.5" x2="779.7" y2="507.0"/>
<line class="ax" x1="779.7" y1="507.0" x2="933.4" y2="427.8"/>
<line class="ax" x1="511.5" y1="302.5" x2="511.5" y2="461.5"/>
<line class="ax" x1="511.5" y1="302.5" x2="519.5" y2="302.5"/>
<text x="494.5" y="307.1" text-anchor="end" fill="#fbf7b5" textLength="10.2" lengthAdjust="spacingAndGlyphs">0</text>
<line class="ax" x1="511.5" y1="329.5" x2="519.5" y2="329.5"/>
<text x="494.5" y="333.6" text-anchor="end" fill="#fbf7b5" textLength="26.2" lengthAdjust="spacingAndGlyphs">-20</text>
<line class="ax" x1="511.5" y1="355.5" x2="519.5" y2="355.5"/>
<text x="494.5" y="360.1" text-anchor="end" fill="#fbf7b5" textLength="26.2" lengthAdjust="spacingAndGlyphs">-40</text>
<line class="ax" x1="511.5" y1="382.5" x2="519.5" y2="382.5"/>
<text x="494.5" y="386.6" text-anchor="end" fill="#fbf7b5" textLength="26.2" lengthAdjust="spacingAndGlyphs">-60</text>
<line class="ax" x1="511.5" y1="408.5" x2="519.5" y2="408.5"/>
<text x="494.5" y="413.1" text-anchor="end" fill="#fbf7b5" textLength="26.2" lengthAdjust="spacingAndGlyphs">-80</text>
<line class="ax" x1="511.5" y1="435.5" x2="519.5" y2="435.5"/>
<text x="494.5" y="439.6" text-anchor="end" fill="#fbf7b5" textLength="36.3" lengthAdjust="spacingAndGlyphs">-100</text>
<line class="ax" x1="511.5" y1="461.5" x2="519.5" y2="461.5"/>
<text x="494.5" y="466.1" text-anchor="end" fill="#fbf7b5" textLength="36.3" lengthAdjust="spacingAndGlyphs">-120</text>
<text x="502.6" y="471.8" text-anchor="middle" fill="#fbf7b5" textLength="71.9" lengthAdjust="spacingAndGlyphs">19:36:00</text>
<line class="ax" x1="578.5" y1="472.9" x2="585.7" y2="469.2"/>
<text x="569.6" y="483.2" text-anchor="middle" fill="#fbf7b5" textLength="71.9" lengthAdjust="spacingAndGlyphs">19:36:20</text>
<line class="ax" x1="645.6" y1="484.2" x2="652.7" y2="480.6"/>
<text x="636.7" y="494.6" text-anchor="middle" fill="#fbf7b5" textLength="71.9" lengthAdjust="spacingAndGlyphs">19:36:40</text>
<line class="ax" x1="712.7" y1="495.6" x2="719.8" y2="492.0"/>
<text x="703.8" y="505.9" text-anchor="middle" fill="#fbf7b5" textLength="71.9" lengthAdjust="spacingAndGlyphs">19:37:00</text>
<text x="770.8" y="517.3" text-anchor="middle" fill="#fbf7b5" textLength="71.9" lengthAdjust="spacingAndGlyphs">19:37:20</text>
<line class="ax" x1="545.0" y1="467.2" x2="548.6" y2="465.4"/>
<line class="ax" x1="612.1" y1="478.6" x2="615.6" y2="476.7"/>
<line class="ax" x1="679.1" y1="489.9" x2="682.7" y2="488.1"/>
<line class="ax" x1="746.2" y1="501.3" x2="749.7" y2="499.5"/>
<text x="796.6" y="515.7" text-anchor="start" fill="#fbf7b5" textLength="40.8" lengthAdjust="spacingAndGlyphs">1210</text>
<line class="ax" x1="801.7" y1="495.7" x2="793.8" y2="494.3"/>
<text x="818.6" y="504.4" text-anchor="start" fill="#fbf7b5" textLength="40.8" lengthAdjust="spacingAndGlyphs">1215</text>
<line class="ax" x1="823.6" y1="484.4" x2="815.7" y2="483.0"/>
<text x="840.5" y="493.1" text-anchor="start" fill="#fbf7b5" textLength="40.8" lengthAdjust="spacingAndGlyphs">1220</text>
<line class="ax" x1="845.6" y1="473.1" x2="837.7" y2="471.7"/>
<text x="862.5" y="481.8" text-anchor="start" fill="#fbf7b5" textLength="40.8" lengthAdjust="spacingAndGlyphs">1225</text>
<line class="ax" x1="867.5" y1="461.7" x2="859.6" y2="460.4"/>
<text x="884.4" y="470.4" text-anchor="start" fill="#fbf7b5" textLength="40.8" lengthAdjust="spacingAndGlyphs">1230</text>
<line class="ax" x1="889.5" y1="450.4" x2="881.6" y2="449.1"/>
<text x="906.4" y="459.1" text-anchor="start" fill="#fbf7b5" textLength="40.8" lengthAdjust="spacingAndGlyphs">1235</text>
<line class="ax" x1="911.4" y1="439.1" x2="903.6" y2="437.8"/>
<text x="928.3" y="447.8" text-anchor="start" fill="#fbf7b5" textLength="40.8" lengthAdjust="spacingAndGlyphs">1240</text>
<text x="950.3" y="436.5" text-anchor="start" fill="#fbf7b5" textLength="40.8" lengthAdjust="spacingAndGlyphs">1245</text>
<text x="437.6" y="382" text-anchor="middle" fill="#fbf7b5" textLength="86.5" lengthAdjust="spacingAndGlyphs" transform="rotate(-90 437.6 382)">PSD (dBm)</text>
<text x="597.5" y="512.5" text-anchor="middle" fill="#fbf7b5" textLength="88.5" lengthAdjust="spacingAndGlyphs" transform="rotate(9.7 597.5 512.5)">Time (UTC)</text>
<text x="933.5" y="487" text-anchor="middle" fill="#fbf7b5" textLength="134.5" lengthAdjust="spacingAndGlyphs" transform="rotate(-27.3 933.5 487)">Frequency (MHz)</text>
<path d="M701.5 484.5 L701.5 325 L835.5 254.6 L835.5 411.4 Z" fill="none" stroke="#ff0000" stroke-width="1" shape-rendering="crispEdges"/>
</g>
<g id="maxrx">
<line x1="315.5" y1="632.5" x2="315.5" y2="707.5" stroke="#c4c4c4" stroke-width="1" stroke-dasharray="2 2" shape-rendering="crispEdges"/>
<line x1="540.5" y1="632.5" x2="540.5" y2="707.5" stroke="#c4c4c4" stroke-width="1" stroke-dasharray="2 2" shape-rendering="crispEdges"/>
<line x1="765.5" y1="632.5" x2="765.5" y2="707.5" stroke="#c4c4c4" stroke-width="1" stroke-dasharray="2 2" shape-rendering="crispEdges"/>
<line x1="90.5" y1="653.5" x2="990.5" y2="653.5" stroke="#c4c4c4" stroke-width="1" stroke-dasharray="2 2" shape-rendering="crispEdges"/>
<rect class="ax" x="90.5" y="632.5" width="900.0" height="75.0"/>
<path class="ax" d="M90.5 707.5v-8M90.5 632.5v8"/>
<path class="ax" d="M203.5 707.5v-4M203.5 632.5v4"/>
<path class="ax" d="M315.5 707.5v-8M315.5 632.5v8"/>
<path class="ax" d="M428.5 707.5v-4M428.5 632.5v4"/>
<path class="ax" d="M540.5 707.5v-8M540.5 632.5v8"/>
<path class="ax" d="M653.5 707.5v-4M653.5 632.5v4"/>
<path class="ax" d="M765.5 707.5v-8M765.5 632.5v8"/>
<path class="ax" d="M878.5 707.5v-4M878.5 632.5v4"/>
<path class="ax" d="M990.5 707.5v-8M990.5 632.5v8"/>
<path class="ax" d="M90.5 653.5h8M990.5 653.5h-8"/>
<path class="ax" d="M90.5 707.5h8M990.5 707.5h-8"/>
<path d="M191.1 677.7 L202.2 674.8 L213.4 672.5 L224.8 670.4 L235.9 669.2 L247.4 669.2 L258.5 670.7 L269.9 673.6 L281.9 676.9" fill="none" stroke="#f5f500" stroke-width="1.1" shape-rendering="crispEdges"/>
<path d="M326.2 676.6 L337.6 674.2 L349.0 671.9 L360.2 670.1 L371.6 667.2 L382.7 664.6 L393.8 663.1 L405.3 662.2 L416.4 663.1 L427.8 666.0 L439.0 669.5 L450.4 675.1 L461.5 677.4 L472.2 674.8 L483.9 670.4 L495.7 667.5 L507.4 665.1 L517.6 664.0 L529.4 664.0 L541.1 665.4 L552.8 668.4 L563.1 670.7 L574.8 672.2 L586.5 671.3 L598.2 668.9 L609.9 666.3 L621.7 664.0 L633.4 662.2 L645.1 661.3 L656.8 660.7 L668.5 660.2 L680.3 660.2 L690.5 660.7 L702.2 662.5 L714.0 664.6 L725.7 668.4 L730.8 669.8 L741.0 673.3 L752.7 675.1 L763.0 673.9 L773.2 672.2 L786.4 671.0 L799.6 673.1 L810.8 674.5" fill="none" stroke="#f5f500" stroke-width="1.1" shape-rendering="crispEdges"/>
<line x1="675.5" y1="632.5" x2="675.5" y2="707.5" stroke="#ff0000" stroke-width="1" shape-rendering="crispEdges"/>
<text x="77" y="658.5" text-anchor="end" fill="#fbf7b5" textLength="36.3" lengthAdjust="spacingAndGlyphs">-100</text>
<text x="77" y="712" text-anchor="end" fill="#fbf7b5" textLength="36.3" lengthAdjust="spacingAndGlyphs">-120</text>
<text x="89.5" y="731" text-anchor="middle" fill="#fbf7b5" textLength="71.9" lengthAdjust="spacingAndGlyphs">19:36:00</text>
<text x="314.5" y="731" text-anchor="middle" fill="#fbf7b5" textLength="71.9" lengthAdjust="spacingAndGlyphs">19:36:20</text>
<text x="539.5" y="731" text-anchor="middle" fill="#fbf7b5" textLength="71.9" lengthAdjust="spacingAndGlyphs">19:36:40</text>
<text x="764.5" y="731" text-anchor="middle" fill="#fbf7b5" textLength="71.9" lengthAdjust="spacingAndGlyphs">19:37:00</text>
<text x="989.5" y="731" text-anchor="middle" fill="#fbf7b5" textLength="71.9" lengthAdjust="spacingAndGlyphs">19:37:20</text>
<text x="538" y="758.5" text-anchor="middle" fill="#fbf7b5" textLength="88.5" lengthAdjust="spacingAndGlyphs">Time (UTC)</text>
<text x="21" y="671" text-anchor="middle" fill="#fbf7b5" textLength="102.7" lengthAdjust="spacingAndGlyphs" transform="rotate(-90 21 671)">Power (dBm)</text>
</g>
</svg>
</body></html>
